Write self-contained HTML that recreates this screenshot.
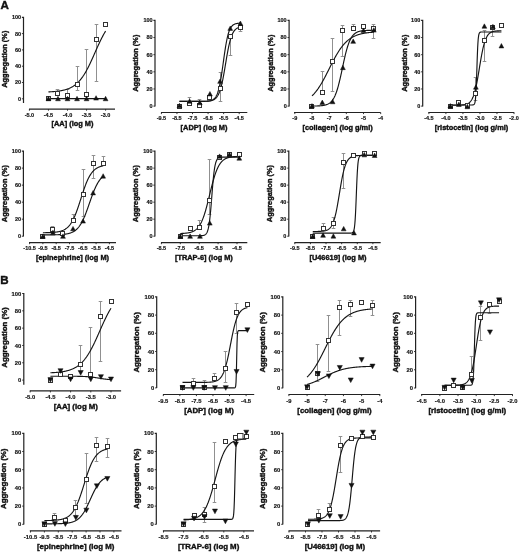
<!DOCTYPE html>
<html><head><meta charset="utf-8"><style>
html,body{margin:0;padding:0;background:#fff;}
body{width:520px;height:552px;overflow:hidden;}
svg{display:block;will-change:transform;}
text{font-family:"Liberation Sans", sans-serif;font-weight:bold;fill:#111;stroke:#111;stroke-width:0.4px;}
.big{font-size:11.6px;fill:#111;}
.yt{text-anchor:end;stroke-width:0.15px;}
.xt{text-anchor:middle;stroke-width:0.15px;}
.xl{text-anchor:middle;}
.yl{text-anchor:middle;}
.ax{stroke:#222;stroke-width:1.2;fill:none;}
.tk{stroke:#222;stroke-width:0.9;}
.cv{stroke:#151515;stroke-width:1.15;fill:none;stroke-linejoin:round;}
.eb{stroke:#909090;stroke-width:1;}
.tr{fill:#111;stroke:#111;stroke-width:0.5;stroke-linejoin:round;}
.sq{fill:#fff;stroke:#333;stroke-width:1;}
</style></head><body>
<svg width="520" height="552" viewBox="0 0 520 552">
<rect width="520" height="552" fill="#fff"/>
<text x="0.5" y="9.2" class="big">A</text>
<text x="0.3" y="283.8" class="big">B</text>
<g>
<path d="M21.9,17.3H23.5V103" class="ax"/>
<line x1="21.9" y1="98.8" x2="23.5" y2="98.8" class="tk"/>
<line x1="21.9" y1="82.5" x2="23.5" y2="82.5" class="tk"/>
<line x1="21.9" y1="66.2" x2="23.5" y2="66.2" class="tk"/>
<line x1="21.9" y1="49.9" x2="23.5" y2="49.9" class="tk"/>
<line x1="21.9" y1="33.6" x2="23.5" y2="33.6" class="tk"/>
<text x="21.1" y="100.75" class="yt" style="font-size:5.5px">0</text>
<text x="21.1" y="84.45" class="yt" style="font-size:5.5px">20</text>
<text x="21.1" y="68.15" class="yt" style="font-size:5.5px">40</text>
<text x="21.1" y="51.85" class="yt" style="font-size:5.5px">60</text>
<text x="21.1" y="35.55" class="yt" style="font-size:5.5px">80</text>
<text x="21.1" y="19.25" class="yt" style="font-size:5.5px">100</text>
<line x1="29" y1="109.1" x2="115" y2="109.1" class="ax"/>
<line x1="29.4" y1="109.1" x2="29.4" y2="110.7" class="tk"/>
<text x="29.4" y="116.8" class="xt" style="font-size:5.5px">-5.0</text>
<line x1="48.45" y1="109.1" x2="48.45" y2="110.7" class="tk"/>
<text x="48.45" y="116.8" class="xt" style="font-size:5.5px">-4.5</text>
<line x1="67.5" y1="109.1" x2="67.5" y2="110.7" class="tk"/>
<text x="67.5" y="116.8" class="xt" style="font-size:5.5px">-4.0</text>
<line x1="86.55" y1="109.1" x2="86.55" y2="110.7" class="tk"/>
<text x="86.55" y="116.8" class="xt" style="font-size:5.5px">-3.5</text>
<line x1="105.6" y1="109.1" x2="105.6" y2="110.7" class="tk"/>
<text x="105.6" y="116.8" class="xt" style="font-size:5.5px">-3.0</text>
<text x="72.5" y="126.2" class="xl" style="font-size:7.4px">[AA] (log M)</text>
<text transform="translate(7,59.2) rotate(-90)" class="yl" style="font-size:7.4px">Aggregation (%)</text>
<line x1="57.5" y1="93.67" x2="57.5" y2="89.5" class="eb"/>
<line x1="55.7" y1="89.5" x2="59.3" y2="89.5" class="eb"/>
<line x1="67.5" y1="95.21" x2="67.5" y2="89.5" class="eb"/>
<line x1="65.7" y1="89.5" x2="69.3" y2="89.5" class="eb"/>
<line x1="77.5" y1="84.62" x2="77.5" y2="66.5" class="eb"/>
<line x1="75.7" y1="66.5" x2="79.3" y2="66.5" class="eb"/>
<line x1="77.5" y1="84.62" x2="77.5" y2="90.5" class="eb"/>
<line x1="75.7" y1="90.5" x2="79.3" y2="90.5" class="eb"/>
<line x1="86.5" y1="94.07" x2="86.5" y2="49.5" class="eb"/>
<line x1="84.7" y1="49.5" x2="88.3" y2="49.5" class="eb"/>
<line x1="96.5" y1="39.06" x2="96.5" y2="24.5" class="eb"/>
<line x1="94.7" y1="24.5" x2="98.3" y2="24.5" class="eb"/>
<line x1="96.5" y1="39.06" x2="96.5" y2="81.5" class="eb"/>
<line x1="94.7" y1="81.5" x2="98.3" y2="81.5" class="eb"/>
<polyline points="48.45,91.9 48.74,91.89 49.02,91.88 49.31,91.86 49.59,91.85 49.88,91.83 50.16,91.82 50.45,91.8 50.74,91.79 51.02,91.77 51.31,91.76 51.59,91.74 51.88,91.72 52.16,91.7 52.45,91.68 52.74,91.66 53.02,91.64 53.31,91.62 53.59,91.6 53.88,91.58 54.17,91.55 54.45,91.53 54.74,91.51 55.02,91.48 55.31,91.45 55.59,91.43 55.88,91.4 56.17,91.37 56.45,91.34 56.74,91.31 57.02,91.28 57.31,91.24 57.59,91.21 57.88,91.17 58.17,91.14 58.45,91.1 58.74,91.06 59.02,91.02 59.31,90.98 59.59,90.94 59.88,90.89 60.17,90.85 60.45,90.8 60.74,90.75 61.02,90.7 61.31,90.65 61.59,90.6 61.88,90.54 62.17,90.49 62.45,90.43 62.74,90.37 63.02,90.3 63.31,90.24 63.59,90.17 63.88,90.11 64.17,90.04 64.45,89.96 64.74,89.89 65.02,89.81 65.31,89.73 65.59,89.65 65.88,89.56 66.17,89.48 66.45,89.39 66.74,89.29 67.02,89.2 67.31,89.1 67.6,89 67.88,88.89 68.17,88.78 68.45,88.67 68.74,88.56 69.02,88.44 69.31,88.32 69.6,88.19 69.88,88.06 70.17,87.93 70.45,87.79 70.74,87.65 71.02,87.51 71.31,87.36 71.6,87.21 71.88,87.05 72.17,86.89 72.45,86.72 72.74,86.55 73.02,86.37 73.31,86.19 73.6,86 73.88,85.81 74.17,85.61 74.45,85.41 74.74,85.2 75.02,84.98 75.31,84.76 75.6,84.54 75.88,84.3 76.17,84.07 76.45,83.82 76.74,83.57 77.03,83.31 77.31,83.05 77.6,82.78 77.88,82.5 78.17,82.22 78.45,81.92 78.74,81.62 79.03,81.32 79.31,81.01 79.6,80.68 79.88,80.36 80.17,80.02 80.45,79.68 80.74,79.32 81.03,78.97 81.31,78.6 81.6,78.22 81.88,77.84 82.17,77.45 82.45,77.05 82.74,76.64 83.03,76.23 83.31,75.8 83.6,75.37 83.88,74.93 84.17,74.48 84.45,74.02 84.74,73.56 85.03,73.09 85.31,72.61 85.6,72.12 85.88,71.62 86.17,71.12 86.45,70.6 86.74,70.08 87.03,69.56 87.31,69.02 87.6,68.48 87.88,67.93 88.17,67.37 88.45,66.81 88.74,66.24 89.03,65.66 89.31,65.08 89.6,64.49 89.88,63.9 90.17,63.3 90.46,62.69 90.74,62.08 91.03,61.47 91.31,60.85 91.6,60.23 91.88,59.6 92.17,58.97 92.46,58.34 92.74,57.7 93.03,57.06 93.31,56.42 93.6,55.77 93.88,55.13 94.17,54.48 94.46,53.83 94.74,53.18 95.03,52.54 95.31,51.89 95.6,51.24 95.88,50.59 96.17,49.95 96.46,49.3 96.74,48.66 97.03,48.02 97.31,47.38 97.6,46.75 97.88,46.11 98.17,45.49 98.46,44.86 98.74,44.24 99.03,43.63 99.31,43.01 99.6,42.41 99.88,41.81 100.17,41.21 100.46,40.62 100.74,40.03 101.03,39.46 101.31,38.88 101.6,38.32 101.89,37.76 102.17,37.21 102.46,36.66 102.74,36.13 103.03,35.6 103.31,35.07 103.6,34.56 103.89,34.05 104.17,33.55 104.46,33.06 104.74,32.58 105.03,32.1 105.31,31.63 105.6,31.18" class="cv"/>
<polyline points="48.45,98.56 48.74,98.56 49.02,98.56 49.31,98.56 49.59,98.56 49.88,98.56 50.16,98.56 50.45,98.56 50.74,98.56 51.02,98.56 51.31,98.56 51.59,98.56 51.88,98.56 52.16,98.56 52.45,98.56 52.74,98.56 53.02,98.56 53.31,98.56 53.59,98.56 53.88,98.56 54.17,98.56 54.45,98.56 54.74,98.56 55.02,98.56 55.31,98.56 55.59,98.56 55.88,98.56 56.17,98.56 56.45,98.56 56.74,98.56 57.02,98.56 57.31,98.56 57.59,98.56 57.88,98.56 58.17,98.56 58.45,98.56 58.74,98.56 59.02,98.56 59.31,98.56 59.59,98.56 59.88,98.56 60.17,98.56 60.45,98.56 60.74,98.56 61.02,98.56 61.31,98.56 61.59,98.56 61.88,98.56 62.17,98.56 62.45,98.56 62.74,98.56 63.02,98.56 63.31,98.56 63.59,98.56 63.88,98.56 64.17,98.56 64.45,98.56 64.74,98.56 65.02,98.56 65.31,98.56 65.59,98.56 65.88,98.56 66.17,98.56 66.45,98.56 66.74,98.56 67.02,98.56 67.31,98.56 67.6,98.56 67.88,98.56 68.17,98.56 68.45,98.56 68.74,98.56 69.02,98.56 69.31,98.56 69.6,98.56 69.88,98.56 70.17,98.56 70.45,98.56 70.74,98.56 71.02,98.56 71.31,98.56 71.6,98.56 71.88,98.56 72.17,98.56 72.45,98.56 72.74,98.56 73.02,98.56 73.31,98.56 73.6,98.56 73.88,98.56 74.17,98.56 74.45,98.56 74.74,98.56 75.02,98.56 75.31,98.56 75.6,98.56 75.88,98.56 76.17,98.56 76.45,98.56 76.74,98.56 77.03,98.56 77.31,98.56 77.6,98.56 77.88,98.56 78.17,98.56 78.45,98.56 78.74,98.56 79.03,98.56 79.31,98.56 79.6,98.56 79.88,98.56 80.17,98.56 80.45,98.56 80.74,98.56 81.03,98.56 81.31,98.56 81.6,98.56 81.88,98.56 82.17,98.56 82.45,98.56 82.74,98.56 83.03,98.56 83.31,98.56 83.6,98.56 83.88,98.56 84.17,98.56 84.45,98.56 84.74,98.56 85.03,98.56 85.31,98.56 85.6,98.56 85.88,98.56 86.17,98.56 86.45,98.56 86.74,98.56 87.03,98.56 87.31,98.56 87.6,98.56 87.88,98.56 88.17,98.56 88.45,98.56 88.74,98.56 89.03,98.56 89.31,98.56 89.6,98.56 89.88,98.56 90.17,98.56 90.46,98.56 90.74,98.56 91.03,98.56 91.31,98.56 91.6,98.56 91.88,98.56 92.17,98.56 92.46,98.56 92.74,98.56 93.03,98.56 93.31,98.56 93.6,98.56 93.88,98.56 94.17,98.56 94.46,98.56 94.74,98.56 95.03,98.56 95.31,98.56 95.6,98.56 95.88,98.56 96.17,98.56 96.46,98.56 96.74,98.56 97.03,98.56 97.31,98.56 97.6,98.56 97.88,98.56 98.17,98.56 98.46,98.56 98.74,98.56 99.03,98.56 99.31,98.56 99.6,98.56 99.88,98.56 100.17,98.56 100.46,98.56 100.74,98.56 101.03,98.56 101.31,98.56 101.6,98.56 101.89,98.56 102.17,98.56 102.46,98.56 102.74,98.56 103.03,98.56 103.31,98.56 103.6,98.56 103.89,98.56 104.17,98.56 104.46,98.56 104.74,98.56 105.03,98.56 105.31,98.56 105.6,98.56" class="cv"/>
<rect x="46.5" y="96.5" width="4" height="4" class="sq"/>
<rect x="55.5" y="91.5" width="4" height="4" class="sq"/>
<rect x="65.5" y="93.5" width="4" height="4" class="sq"/>
<rect x="75.5" y="82.5" width="4" height="4" class="sq"/>
<rect x="84.5" y="92.5" width="4" height="4" class="sq"/>
<rect x="94.5" y="37.5" width="4" height="4" class="sq"/>
<rect x="103.5" y="22.5" width="4" height="4" class="sq"/>
<polygon points="46.05,100.74 50.85,100.74 48.45,96.33" class="tr"/>
<polygon points="55.58,100.74 60.38,100.74 57.98,96.33" class="tr"/>
<polygon points="65.1,100.74 69.9,100.74 67.5,96.33" class="tr"/>
<polygon points="74.62,100.74 79.43,100.74 77.03,96.33" class="tr"/>
<polygon points="84.15,100.74 88.95,100.74 86.55,96.33" class="tr"/>
<polygon points="93.67,100.08 98.47,100.08 96.07,95.67" class="tr"/>
<polygon points="103.2,100.74 108,100.74 105.6,96.33" class="tr"/>
</g>
<g>
<path d="M153.4,20.4H155V106.4" class="ax"/>
<line x1="153.4" y1="106.1" x2="155" y2="106.1" class="tk"/>
<line x1="153.4" y1="88.96" x2="155" y2="88.96" class="tk"/>
<line x1="153.4" y1="71.82" x2="155" y2="71.82" class="tk"/>
<line x1="153.4" y1="54.68" x2="155" y2="54.68" class="tk"/>
<line x1="153.4" y1="37.54" x2="155" y2="37.54" class="tk"/>
<text x="152.6" y="108.05" class="yt" style="font-size:5.5px">0</text>
<text x="152.6" y="90.91" class="yt" style="font-size:5.5px">20</text>
<text x="152.6" y="73.77" class="yt" style="font-size:5.5px">40</text>
<text x="152.6" y="56.63" class="yt" style="font-size:5.5px">60</text>
<text x="152.6" y="39.49" class="yt" style="font-size:5.5px">80</text>
<text x="152.6" y="22.35" class="yt" style="font-size:5.5px">100</text>
<line x1="161" y1="112.5" x2="247.3" y2="112.5" class="ax"/>
<line x1="161.4" y1="112.5" x2="161.4" y2="114.1" class="tk"/>
<text x="161.4" y="120.2" class="xt" style="font-size:5.5px">-9.5</text>
<line x1="176.96" y1="112.5" x2="176.96" y2="114.1" class="tk"/>
<text x="176.96" y="120.2" class="xt" style="font-size:5.5px">-8.5</text>
<line x1="192.52" y1="112.5" x2="192.52" y2="114.1" class="tk"/>
<text x="192.52" y="120.2" class="xt" style="font-size:5.5px">-7.5</text>
<line x1="208.08" y1="112.5" x2="208.08" y2="114.1" class="tk"/>
<text x="208.08" y="120.2" class="xt" style="font-size:5.5px">-6.5</text>
<line x1="223.64" y1="112.5" x2="223.64" y2="114.1" class="tk"/>
<text x="223.64" y="120.2" class="xt" style="font-size:5.5px">-5.5</text>
<line x1="239.2" y1="112.5" x2="239.2" y2="114.1" class="tk"/>
<text x="239.2" y="120.2" class="xt" style="font-size:5.5px">-4.5</text>
<text x="204" y="129.6" class="xl" style="font-size:7.4px">[ADP] (log M)</text>
<text transform="translate(138.3,63.2) rotate(-90)" class="yl" style="font-size:7.4px">Aggregation (%)</text>
<line x1="189.5" y1="103.96" x2="189.5" y2="97.5" class="eb"/>
<line x1="187.7" y1="97.5" x2="191.3" y2="97.5" class="eb"/>
<line x1="199.5" y1="105.93" x2="199.5" y2="99.5" class="eb"/>
<line x1="197.7" y1="99.5" x2="201.3" y2="99.5" class="eb"/>
<line x1="220.5" y1="88.53" x2="220.5" y2="72.5" class="eb"/>
<line x1="218.7" y1="72.5" x2="222.3" y2="72.5" class="eb"/>
<line x1="220.5" y1="88.53" x2="220.5" y2="101.5" class="eb"/>
<line x1="218.7" y1="101.5" x2="222.3" y2="101.5" class="eb"/>
<line x1="230.5" y1="36.25" x2="230.5" y2="55.5" class="eb"/>
<line x1="228.7" y1="55.5" x2="232.3" y2="55.5" class="eb"/>
<line x1="240.5" y1="27.26" x2="240.5" y2="31.5" class="eb"/>
<line x1="238.7" y1="31.5" x2="242.3" y2="31.5" class="eb"/>
<polyline points="179.45,101.39 179.75,101.39 180.06,101.39 180.36,101.39 180.67,101.39 180.97,101.39 181.28,101.39 181.58,101.39 181.89,101.39 182.19,101.39 182.5,101.39 182.8,101.39 183.11,101.39 183.41,101.39 183.72,101.39 184.02,101.39 184.33,101.39 184.63,101.39 184.94,101.39 185.24,101.39 185.55,101.39 185.85,101.39 186.16,101.39 186.46,101.39 186.77,101.39 187.07,101.39 187.37,101.39 187.68,101.39 187.98,101.39 188.29,101.39 188.59,101.39 188.9,101.39 189.2,101.39 189.51,101.39 189.81,101.39 190.12,101.39 190.42,101.39 190.73,101.39 191.03,101.39 191.34,101.39 191.64,101.39 191.95,101.38 192.25,101.38 192.56,101.38 192.86,101.38 193.17,101.38 193.47,101.38 193.78,101.38 194.08,101.38 194.39,101.38 194.69,101.38 195,101.38 195.3,101.38 195.61,101.38 195.91,101.38 196.21,101.38 196.52,101.38 196.82,101.38 197.13,101.38 197.43,101.38 197.74,101.38 198.04,101.38 198.35,101.37 198.65,101.37 198.96,101.37 199.26,101.37 199.57,101.37 199.87,101.37 200.18,101.36 200.48,101.36 200.79,101.36 201.09,101.36 201.4,101.35 201.7,101.35 202.01,101.35 202.31,101.34 202.62,101.34 202.92,101.33 203.23,101.33 203.53,101.32 203.84,101.31 204.14,101.31 204.44,101.3 204.75,101.29 205.05,101.28 205.36,101.27 205.66,101.26 205.97,101.24 206.27,101.23 206.58,101.21 206.88,101.2 207.19,101.18 207.49,101.16 207.8,101.13 208.1,101.11 208.41,101.08 208.71,101.05 209.02,101.01 209.32,100.97 209.63,100.93 209.93,100.88 210.24,100.83 210.54,100.78 210.85,100.71 211.15,100.65 211.46,100.57 211.76,100.49 212.07,100.4 212.37,100.3 212.68,100.19 212.98,100.07 213.28,99.94 213.59,99.79 213.89,99.63 214.2,99.46 214.5,99.27 214.81,99.06 215.11,98.83 215.42,98.57 215.72,98.3 216.03,98 216.33,97.67 216.64,97.31 216.94,96.91 217.25,96.48 217.55,96.02 217.86,95.51 218.16,94.96 218.47,94.37 218.77,93.72 219.08,93.03 219.38,92.27 219.69,91.46 219.99,90.59 220.3,89.66 220.6,88.67 220.91,87.6 221.21,86.47 221.51,85.28 221.82,84.01 222.12,82.68 222.43,81.27 222.73,79.81 223.04,78.28 223.34,76.69 223.65,75.05 223.95,73.37 224.26,71.64 224.56,69.87 224.87,68.08 225.17,66.27 225.48,64.44 225.78,62.62 226.09,60.8 226.39,58.99 226.7,57.21 227,55.46 227.31,53.74 227.61,52.07 227.92,50.46 228.22,48.89 228.53,47.39 228.83,45.95 229.14,44.57 229.44,43.27 229.74,42.03 230.05,40.85 230.35,39.75 230.66,38.72 230.96,37.75 231.27,36.84 231.57,35.99 231.88,35.21 232.18,34.48 232.49,33.8 232.79,33.18 233.1,32.6 233.4,32.07 233.71,31.58 234.01,31.13 234.32,30.71 234.62,30.33 234.93,29.99 235.23,29.67 235.54,29.38 235.84,29.11 236.15,28.87 236.45,28.64 236.76,28.44 237.06,28.26 237.37,28.09 237.67,27.93 237.98,27.79 238.28,27.67 238.58,27.55 238.89,27.45 239.19,27.35 239.5,27.26 239.8,27.18 240.11,27.11 240.41,27.05" class="cv"/>
<polyline points="179.45,101.39 179.75,101.39 180.06,101.39 180.36,101.39 180.67,101.39 180.97,101.39 181.28,101.39 181.58,101.39 181.89,101.39 182.19,101.39 182.5,101.39 182.8,101.39 183.11,101.39 183.41,101.39 183.72,101.39 184.02,101.39 184.33,101.39 184.63,101.39 184.94,101.39 185.24,101.39 185.55,101.39 185.85,101.39 186.16,101.39 186.46,101.39 186.77,101.39 187.07,101.39 187.37,101.39 187.68,101.39 187.98,101.39 188.29,101.39 188.59,101.39 188.9,101.39 189.2,101.39 189.51,101.39 189.81,101.39 190.12,101.39 190.42,101.39 190.73,101.39 191.03,101.39 191.34,101.39 191.64,101.39 191.95,101.39 192.25,101.39 192.56,101.39 192.86,101.39 193.17,101.39 193.47,101.39 193.78,101.39 194.08,101.38 194.39,101.38 194.69,101.38 195,101.38 195.3,101.38 195.61,101.38 195.91,101.38 196.21,101.38 196.52,101.38 196.82,101.38 197.13,101.38 197.43,101.38 197.74,101.38 198.04,101.38 198.35,101.38 198.65,101.38 198.96,101.38 199.26,101.38 199.57,101.37 199.87,101.37 200.18,101.37 200.48,101.37 200.79,101.37 201.09,101.37 201.4,101.36 201.7,101.36 202.01,101.36 202.31,101.35 202.62,101.35 202.92,101.35 203.23,101.34 203.53,101.33 203.84,101.33 204.14,101.32 204.44,101.31 204.75,101.31 205.05,101.3 205.36,101.28 205.66,101.27 205.97,101.26 206.27,101.24 206.58,101.23 206.88,101.21 207.19,101.19 207.49,101.16 207.8,101.14 208.1,101.11 208.41,101.07 208.71,101.04 209.02,100.99 209.32,100.95 209.63,100.9 209.93,100.84 210.24,100.77 210.54,100.7 210.85,100.62 211.15,100.53 211.46,100.43 211.76,100.32 212.07,100.19 212.37,100.05 212.68,99.89 212.98,99.72 213.28,99.52 213.59,99.31 213.89,99.07 214.2,98.8 214.5,98.5 214.81,98.17 215.11,97.8 215.42,97.4 215.72,96.95 216.03,96.45 216.33,95.9 216.64,95.3 216.94,94.64 217.25,93.91 217.55,93.11 217.86,92.24 218.16,91.29 218.47,90.25 218.77,89.13 219.08,87.92 219.38,86.61 219.69,85.21 219.99,83.72 220.3,82.13 220.6,80.44 220.91,78.67 221.21,76.8 221.51,74.86 221.82,72.85 222.12,70.77 222.43,68.64 222.73,66.47 223.04,64.28 223.34,62.07 223.65,59.86 223.95,57.67 224.26,55.5 224.56,53.38 224.87,51.31 225.17,49.3 225.48,47.37 225.78,45.51 226.09,43.75 226.39,42.07 226.7,40.49 227,39 227.31,37.61 227.61,36.32 227.92,35.11 228.22,34 228.53,32.97 228.83,32.03 229.14,31.17 229.44,30.37 229.74,29.65 230.05,28.99 230.35,28.4 230.66,27.85 230.96,27.36 231.27,26.92 231.57,26.52 231.88,26.15 232.18,25.83 232.49,25.53 232.79,25.27 233.1,25.03 233.4,24.81 233.71,24.62 234.01,24.45 234.32,24.29 234.62,24.15 234.93,24.03 235.23,23.92 235.54,23.82 235.84,23.73 236.15,23.65 236.45,23.58 236.76,23.51 237.06,23.46 237.37,23.4 237.67,23.36 237.98,23.32 238.28,23.28 238.58,23.25 238.89,23.22 239.19,23.19 239.5,23.17 239.8,23.15 240.11,23.13 240.41,23.11" class="cv"/>
<rect x="177.5" y="104.5" width="4" height="4" class="sq"/>
<rect x="187.5" y="101.5" width="4" height="4" class="sq"/>
<rect x="197.5" y="103.5" width="4" height="4" class="sq"/>
<rect x="207.5" y="95.5" width="4" height="4" class="sq"/>
<rect x="218.5" y="86.5" width="4" height="4" class="sq"/>
<rect x="228.5" y="34.5" width="4" height="4" class="sq"/>
<rect x="238.5" y="25.5" width="4" height="4" class="sq"/>
<polygon points="177.05,107.77 181.85,107.77 179.45,103.36" class="tr"/>
<polygon points="187.21,103.32 192.01,103.32 189.61,98.91" class="tr"/>
<polygon points="197.37,104.77 202.17,104.77 199.77,100.36" class="tr"/>
<polygon points="207.53,95.94 212.33,95.94 209.93,91.53" class="tr"/>
<polygon points="217.69,83.35 222.49,83.35 220.09,78.94" class="tr"/>
<polygon points="227.85,30.38 232.65,30.38 230.25,25.97" class="tr"/>
<polygon points="238.01,25.41 242.81,25.41 240.41,21" class="tr"/>
</g>
<g>
<path d="M287.5,20.4H289.1V106.4" class="ax"/>
<line x1="287.5" y1="106.1" x2="289.1" y2="106.1" class="tk"/>
<line x1="287.5" y1="88.96" x2="289.1" y2="88.96" class="tk"/>
<line x1="287.5" y1="71.82" x2="289.1" y2="71.82" class="tk"/>
<line x1="287.5" y1="54.68" x2="289.1" y2="54.68" class="tk"/>
<line x1="287.5" y1="37.54" x2="289.1" y2="37.54" class="tk"/>
<text x="286.7" y="108.05" class="yt" style="font-size:5.5px">0</text>
<text x="286.7" y="90.91" class="yt" style="font-size:5.5px">20</text>
<text x="286.7" y="73.77" class="yt" style="font-size:5.5px">40</text>
<text x="286.7" y="56.63" class="yt" style="font-size:5.5px">60</text>
<text x="286.7" y="39.49" class="yt" style="font-size:5.5px">80</text>
<text x="286.7" y="22.35" class="yt" style="font-size:5.5px">100</text>
<line x1="294" y1="112.5" x2="380.7" y2="112.5" class="ax"/>
<line x1="294.8" y1="112.5" x2="294.8" y2="114.1" class="tk"/>
<text x="294.8" y="120.2" class="xt" style="font-size:5.5px">-9</text>
<line x1="311.98" y1="112.5" x2="311.98" y2="114.1" class="tk"/>
<text x="311.98" y="120.2" class="xt" style="font-size:5.5px">-8</text>
<line x1="329.16" y1="112.5" x2="329.16" y2="114.1" class="tk"/>
<text x="329.16" y="120.2" class="xt" style="font-size:5.5px">-7</text>
<line x1="346.34" y1="112.5" x2="346.34" y2="114.1" class="tk"/>
<text x="346.34" y="120.2" class="xt" style="font-size:5.5px">-6</text>
<line x1="363.52" y1="112.5" x2="363.52" y2="114.1" class="tk"/>
<text x="363.52" y="120.2" class="xt" style="font-size:5.5px">-5</text>
<line x1="380.7" y1="112.5" x2="380.7" y2="114.1" class="tk"/>
<text x="380.7" y="120.2" class="xt" style="font-size:5.5px">-4</text>
<text x="337.6" y="129.6" class="xl" style="font-size:7.4px">[collagen] (log g/ml)</text>
<text transform="translate(272.6,63.2) rotate(-90)" class="yl" style="font-size:7.4px">Aggregation (%)</text>
<line x1="322.5" y1="92.73" x2="322.5" y2="71.5" class="eb"/>
<line x1="320.7" y1="71.5" x2="324.3" y2="71.5" class="eb"/>
<line x1="332.5" y1="61.36" x2="332.5" y2="38.5" class="eb"/>
<line x1="330.7" y1="38.5" x2="334.3" y2="38.5" class="eb"/>
<line x1="332.5" y1="61.36" x2="332.5" y2="91.5" class="eb"/>
<line x1="330.7" y1="91.5" x2="334.3" y2="91.5" class="eb"/>
<line x1="342.5" y1="30.68" x2="342.5" y2="25.5" class="eb"/>
<line x1="340.7" y1="25.5" x2="344.3" y2="25.5" class="eb"/>
<line x1="342.5" y1="30.68" x2="342.5" y2="56.5" class="eb"/>
<line x1="340.7" y1="56.5" x2="344.3" y2="56.5" class="eb"/>
<line x1="353.5" y1="28.28" x2="353.5" y2="24.5" class="eb"/>
<line x1="351.7" y1="24.5" x2="355.3" y2="24.5" class="eb"/>
<line x1="373.5" y1="28.28" x2="373.5" y2="24.5" class="eb"/>
<line x1="371.7" y1="24.5" x2="375.3" y2="24.5" class="eb"/>
<line x1="373.5" y1="28.28" x2="373.5" y2="38.5" class="eb"/>
<line x1="371.7" y1="38.5" x2="375.3" y2="38.5" class="eb"/>
<polyline points="311.98,95.9 312.29,95.6 312.6,95.3 312.91,94.99 313.22,94.67 313.53,94.35 313.84,94.02 314.14,93.68 314.45,93.33 314.76,92.98 315.07,92.61 315.38,92.24 315.69,91.87 316,91.48 316.31,91.09 316.62,90.69 316.93,90.28 317.24,89.86 317.55,89.43 317.86,89 318.16,88.56 318.47,88.11 318.78,87.66 319.09,87.19 319.4,86.72 319.71,86.24 320.02,85.75 320.33,85.26 320.64,84.76 320.95,84.25 321.26,83.73 321.57,83.21 321.88,82.68 322.18,82.15 322.49,81.6 322.8,81.05 323.11,80.5 323.42,79.94 323.73,79.37 324.04,78.8 324.35,78.23 324.66,77.65 324.97,77.06 325.28,76.47 325.59,75.88 325.9,75.28 326.21,74.68 326.51,74.07 326.82,73.47 327.13,72.86 327.44,72.24 327.75,71.63 328.06,71.02 328.37,70.4 328.68,69.78 328.99,69.16 329.3,68.55 329.61,67.93 329.92,67.31 330.23,66.69 330.53,66.08 330.84,65.46 331.15,64.85 331.46,64.24 331.77,63.64 332.08,63.03 332.39,62.43 332.7,61.83 333.01,61.24 333.32,60.65 333.63,60.06 333.94,59.48 334.25,58.9 334.55,58.33 334.86,57.76 335.17,57.2 335.48,56.65 335.79,56.1 336.1,55.56 336.41,55.02 336.72,54.49 337.03,53.97 337.34,53.45 337.65,52.94 337.96,52.44 338.27,51.94 338.57,51.45 338.88,50.97 339.19,50.5 339.5,50.04 339.81,49.58 340.12,49.13 340.43,48.69 340.74,48.25 341.05,47.83 341.36,47.41 341.67,47 341.98,46.6 342.29,46.2 342.59,45.82 342.9,45.44 343.21,45.07 343.52,44.7 343.83,44.35 344.14,44 344.45,43.66 344.76,43.33 345.07,43 345.38,42.68 345.69,42.37 346,42.07 346.31,41.77 346.61,41.48 346.92,41.2 347.23,40.93 347.54,40.66 347.85,40.4 348.16,40.14 348.47,39.89 348.78,39.65 349.09,39.41 349.4,39.18 349.71,38.96 350.02,38.74 350.33,38.53 350.63,38.32 350.94,38.12 351.25,37.92 351.56,37.73 351.87,37.54 352.18,37.36 352.49,37.19 352.8,37.02 353.11,36.85 353.42,36.69 353.73,36.53 354.04,36.38 354.35,36.23 354.66,36.09 354.96,35.95 355.27,35.82 355.58,35.68 355.89,35.56 356.2,35.43 356.51,35.31 356.82,35.19 357.13,35.08 357.44,34.97 357.75,34.86 358.06,34.76 358.37,34.66 358.68,34.56 358.98,34.47 359.29,34.38 359.6,34.29 359.91,34.2 360.22,34.12 360.53,34.04 360.84,33.96 361.15,33.88 361.46,33.81 361.77,33.73 362.08,33.66 362.39,33.6 362.7,33.53 363,33.47 363.31,33.41 363.62,33.35 363.93,33.29 364.24,33.24 364.55,33.18 364.86,33.13 365.17,33.08 365.48,33.03 365.79,32.98 366.1,32.94 366.41,32.89 366.72,32.85 367.02,32.81 367.33,32.76 367.64,32.73 367.95,32.69 368.26,32.65 368.57,32.61 368.88,32.58 369.19,32.55 369.5,32.51 369.81,32.48 370.12,32.45 370.43,32.42 370.74,32.4 371.04,32.37 371.35,32.34 371.66,32.32 371.97,32.29 372.28,32.27 372.59,32.24 372.9,32.22 373.21,32.2 373.52,32.18 373.83,32.16" class="cv"/>
<polyline points="311.98,106.06 312.29,106.06 312.6,106.05 312.91,106.05 313.22,106.05 313.53,106.04 313.84,106.04 314.14,106.03 314.45,106.03 314.76,106.02 315.07,106.01 315.38,106.01 315.69,106 316,105.99 316.31,105.98 316.62,105.98 316.93,105.97 317.24,105.95 317.55,105.94 317.86,105.93 318.16,105.92 318.47,105.9 318.78,105.89 319.09,105.87 319.4,105.85 319.71,105.83 320.02,105.81 320.33,105.79 320.64,105.76 320.95,105.73 321.26,105.71 321.57,105.67 321.88,105.64 322.18,105.6 322.49,105.56 322.8,105.52 323.11,105.48 323.42,105.43 323.73,105.37 324.04,105.32 324.35,105.25 324.66,105.19 324.97,105.12 325.28,105.04 325.59,104.95 325.9,104.86 326.21,104.77 326.51,104.66 326.82,104.55 327.13,104.43 327.44,104.3 327.75,104.16 328.06,104.01 328.37,103.85 328.68,103.67 328.99,103.48 329.3,103.28 329.61,103.07 329.92,102.83 330.23,102.58 330.53,102.32 330.84,102.03 331.15,101.73 331.46,101.4 331.77,101.05 332.08,100.67 332.39,100.27 332.7,99.84 333.01,99.39 333.32,98.9 333.63,98.39 333.94,97.84 334.25,97.25 334.55,96.63 334.86,95.98 335.17,95.29 335.48,94.55 335.79,93.78 336.1,92.97 336.41,92.11 336.72,91.21 337.03,90.27 337.34,89.28 337.65,88.26 337.96,87.19 338.27,86.07 338.57,84.92 338.88,83.73 339.19,82.5 339.5,81.23 339.81,79.93 340.12,78.59 340.43,77.23 340.74,75.85 341.05,74.44 341.36,73.01 341.67,71.57 341.98,70.12 342.29,68.66 342.59,67.21 342.9,65.75 343.21,64.3 343.52,62.87 343.83,61.45 344.14,60.05 344.45,58.67 344.76,57.31 345.07,55.99 345.38,54.7 345.69,53.44 346,52.23 346.31,51.05 346.61,49.91 346.92,48.81 347.23,47.75 347.54,46.74 347.85,45.77 348.16,44.84 348.47,43.96 348.78,43.11 349.09,42.31 349.4,41.55 349.71,40.83 350.02,40.15 350.33,39.51 350.63,38.9 350.94,38.33 351.25,37.79 351.56,37.29 351.87,36.81 352.18,36.37 352.49,35.95 352.8,35.56 353.11,35.19 353.42,34.85 353.73,34.53 354.04,34.23 354.35,33.95 354.66,33.69 354.96,33.44 355.27,33.22 355.58,33 355.89,32.81 356.2,32.63 356.51,32.46 356.82,32.3 357.13,32.15 357.44,32.01 357.75,31.89 358.06,31.77 358.37,31.66 358.68,31.56 358.98,31.46 359.29,31.37 359.6,31.29 359.91,31.22 360.22,31.15 360.53,31.08 360.84,31.02 361.15,30.96 361.46,30.91 361.77,30.86 362.08,30.82 362.39,30.78 362.7,30.74 363,30.7 363.31,30.67 363.62,30.64 363.93,30.61 364.24,30.59 364.55,30.56 364.86,30.54 365.17,30.52 365.48,30.5 365.79,30.48 366.1,30.46 366.41,30.45 366.72,30.43 367.02,30.42 367.33,30.41 367.64,30.4 367.95,30.39 368.26,30.38 368.57,30.37 368.88,30.36 369.19,30.35 369.5,30.35 369.81,30.34 370.12,30.33 370.43,30.33 370.74,30.32 371.04,30.32 371.35,30.31 371.66,30.31 371.97,30.3 372.28,30.3 372.59,30.3 372.9,30.29 373.21,30.29 373.52,30.29 373.83,30.29" class="cv"/>
<rect x="309.5" y="104.5" width="4" height="4" class="sq"/>
<rect x="320.5" y="90.5" width="4" height="4" class="sq"/>
<rect x="330.5" y="59.5" width="4" height="4" class="sq"/>
<rect x="340.5" y="28.5" width="4" height="4" class="sq"/>
<rect x="351.5" y="26.5" width="4" height="4" class="sq"/>
<rect x="361.5" y="24.5" width="4" height="4" class="sq"/>
<rect x="371.5" y="26.5" width="4" height="4" class="sq"/>
<polygon points="309.58,108.03 314.38,108.03 311.98,103.62" class="tr"/>
<polygon points="319.89,104.51 324.69,104.51 322.29,100.1" class="tr"/>
<polygon points="330.2,103.74 335,103.74 332.6,99.33" class="tr"/>
<polygon points="340.5,69.63 345.3,69.63 342.9,65.22" class="tr"/>
<polygon points="350.81,43.33 355.61,43.33 353.21,38.92" class="tr"/>
<polygon points="361.12,32.44 365.92,32.44 363.52,28.03" class="tr"/>
<polygon points="371.43,32.1 376.23,32.1 373.83,27.69" class="tr"/>
</g>
<g>
<path d="M421.1,20.4H422.7V106.4" class="ax"/>
<line x1="421.1" y1="106.1" x2="422.7" y2="106.1" class="tk"/>
<line x1="421.1" y1="88.96" x2="422.7" y2="88.96" class="tk"/>
<line x1="421.1" y1="71.82" x2="422.7" y2="71.82" class="tk"/>
<line x1="421.1" y1="54.68" x2="422.7" y2="54.68" class="tk"/>
<line x1="421.1" y1="37.54" x2="422.7" y2="37.54" class="tk"/>
<text x="420.3" y="108.05" class="yt" style="font-size:5.5px">0</text>
<text x="420.3" y="90.91" class="yt" style="font-size:5.5px">20</text>
<text x="420.3" y="73.77" class="yt" style="font-size:5.5px">40</text>
<text x="420.3" y="56.63" class="yt" style="font-size:5.5px">60</text>
<text x="420.3" y="39.49" class="yt" style="font-size:5.5px">80</text>
<text x="420.3" y="22.35" class="yt" style="font-size:5.5px">100</text>
<line x1="428.3" y1="112.5" x2="514.2" y2="112.5" class="ax"/>
<line x1="428.9" y1="112.5" x2="428.9" y2="114.1" class="tk"/>
<text x="428.9" y="120.2" class="xt" style="font-size:5.5px">-4.5</text>
<line x1="445.92" y1="112.5" x2="445.92" y2="114.1" class="tk"/>
<text x="445.92" y="120.2" class="xt" style="font-size:5.5px">-4.0</text>
<line x1="462.94" y1="112.5" x2="462.94" y2="114.1" class="tk"/>
<text x="462.94" y="120.2" class="xt" style="font-size:5.5px">-3.5</text>
<line x1="479.96" y1="112.5" x2="479.96" y2="114.1" class="tk"/>
<text x="479.96" y="120.2" class="xt" style="font-size:5.5px">-3.0</text>
<line x1="496.98" y1="112.5" x2="496.98" y2="114.1" class="tk"/>
<text x="496.98" y="120.2" class="xt" style="font-size:5.5px">-2.5</text>
<line x1="514" y1="112.5" x2="514" y2="114.1" class="tk"/>
<text x="514" y="120.2" class="xt" style="font-size:5.5px">-2.0</text>
<text x="471.5" y="129.6" class="xl" style="font-size:7.4px">[ristocetin] (log g/ml)</text>
<text transform="translate(406.5,63.2) rotate(-90)" class="yl" style="font-size:7.4px">Aggregation (%)</text>
<line x1="475.5" y1="93.84" x2="475.5" y2="77.5" class="eb"/>
<line x1="473.7" y1="77.5" x2="477.3" y2="77.5" class="eb"/>
<line x1="475.5" y1="93.84" x2="475.5" y2="100.5" class="eb"/>
<line x1="473.7" y1="100.5" x2="477.3" y2="100.5" class="eb"/>
<line x1="484.5" y1="40.45" x2="484.5" y2="30.5" class="eb"/>
<line x1="482.7" y1="30.5" x2="486.3" y2="30.5" class="eb"/>
<line x1="484.5" y1="40.45" x2="484.5" y2="61.5" class="eb"/>
<line x1="482.7" y1="61.5" x2="486.3" y2="61.5" class="eb"/>
<line x1="492.5" y1="27.26" x2="492.5" y2="36.5" class="eb"/>
<line x1="490.7" y1="36.5" x2="494.3" y2="36.5" class="eb"/>
<polyline points="450.35,105.24 450.6,105.24 450.86,105.24 451.11,105.24 451.37,105.24 451.62,105.23 451.88,105.23 452.13,105.23 452.39,105.23 452.64,105.23 452.9,105.23 453.15,105.23 453.41,105.23 453.66,105.23 453.92,105.23 454.17,105.22 454.43,105.22 454.69,105.22 454.94,105.22 455.2,105.22 455.45,105.21 455.71,105.21 455.96,105.21 456.22,105.21 456.47,105.2 456.73,105.2 456.98,105.19 457.24,105.19 457.49,105.19 457.75,105.18 458,105.18 458.26,105.17 458.51,105.16 458.77,105.16 459.03,105.15 459.28,105.14 459.54,105.13 459.79,105.12 460.05,105.11 460.3,105.1 460.56,105.09 460.81,105.07 461.07,105.06 461.32,105.04 461.58,105.03 461.83,105.01 462.09,104.99 462.34,104.97 462.6,104.94 462.85,104.91 463.11,104.89 463.37,104.86 463.62,104.82 463.88,104.79 464.13,104.75 464.39,104.7 464.64,104.66 464.9,104.61 465.15,104.55 465.41,104.49 465.66,104.43 465.92,104.36 466.17,104.28 466.43,104.2 466.68,104.11 466.94,104.01 467.19,103.9 467.45,103.79 467.71,103.66 467.96,103.53 468.22,103.38 468.47,103.23 468.73,103.06 468.98,102.87 469.24,102.67 469.49,102.46 469.75,102.22 470,101.97 470.26,101.7 470.51,101.41 470.77,101.09 471.02,100.75 471.28,100.38 471.54,99.99 471.79,99.57 472.05,99.11 472.3,98.63 472.56,98.11 472.81,97.55 473.07,96.95 473.32,96.32 473.58,95.64 473.83,94.92 474.09,94.15 474.34,93.34 474.6,92.48 474.85,91.57 475.11,90.61 475.36,89.6 475.62,88.54 475.88,87.44 476.13,86.28 476.39,85.07 476.64,83.82 476.9,82.52 477.15,81.18 477.41,79.8 477.66,78.38 477.92,76.92 478.17,75.44 478.43,73.94 478.68,72.41 478.94,70.87 479.19,69.31 479.45,67.76 479.7,66.2 479.96,64.65 480.22,63.11 480.47,61.59 480.73,60.09 480.98,58.61 481.24,57.17 481.49,55.76 481.75,54.39 482,53.06 482.26,51.77 482.51,50.53 482.77,49.34 483.02,48.19 483.28,47.1 483.53,46.05 483.79,45.06 484.04,44.11 484.3,43.22 484.56,42.37 484.81,41.57 485.07,40.81 485.32,40.1 485.58,39.44 485.83,38.81 486.09,38.23 486.34,37.68 486.6,37.17 486.85,36.69 487.11,36.24 487.36,35.83 487.62,35.44 487.87,35.08 488.13,34.75 488.38,34.44 488.64,34.15 488.9,33.89 489.15,33.64 489.41,33.41 489.66,33.2 489.92,33 490.17,32.82 490.43,32.66 490.68,32.5 490.94,32.36 491.19,32.23 491.45,32.11 491.7,31.99 491.96,31.89 492.21,31.8 492.47,31.71 492.72,31.63 492.98,31.55 493.24,31.48 493.49,31.42 493.75,31.36 494,31.31 494.26,31.26 494.51,31.21 494.77,31.17 495.02,31.13 495.28,31.1 495.53,31.06 495.79,31.03 496.04,31 496.3,30.98 496.55,30.96 496.81,30.93 497.07,30.91 497.32,30.9 497.58,30.88 497.83,30.86 498.09,30.85 498.34,30.84 498.6,30.82 498.85,30.81 499.11,30.8 499.36,30.79 499.62,30.78 499.87,30.78 500.13,30.77 500.38,30.76 500.64,30.76 500.89,30.75 501.15,30.74 501.41,30.74" class="cv"/>
<polyline points="450.35,104.99 450.6,104.99 450.86,104.99 451.11,104.99 451.37,104.99 451.62,104.99 451.88,104.99 452.13,104.99 452.39,104.99 452.64,104.99 452.9,104.99 453.15,104.99 453.41,104.99 453.66,104.99 453.92,104.99 454.17,104.99 454.43,104.99 454.69,104.99 454.94,104.99 455.2,104.99 455.45,104.99 455.71,104.99 455.96,104.99 456.22,104.99 456.47,104.99 456.73,104.99 456.98,104.99 457.24,104.99 457.49,104.99 457.75,104.99 458,104.99 458.26,104.99 458.51,104.99 458.77,104.99 459.03,104.99 459.28,104.99 459.54,104.99 459.79,104.99 460.05,104.99 460.3,104.99 460.56,104.99 460.81,104.99 461.07,104.99 461.32,104.99 461.58,104.99 461.83,104.99 462.09,104.99 462.34,104.99 462.6,104.99 462.85,104.99 463.11,104.99 463.37,104.99 463.62,104.99 463.88,104.99 464.13,104.99 464.39,104.99 464.64,104.99 464.9,104.99 465.15,104.99 465.41,104.99 465.66,104.99 465.92,104.99 466.17,104.99 466.43,104.99 466.68,104.99 466.94,104.99 467.19,104.99 467.45,104.99 467.71,104.99 467.96,104.99 468.22,104.99 468.47,104.99 468.73,104.99 468.98,104.99 469.24,104.99 469.49,104.99 469.75,104.99 470,104.99 470.26,104.98 470.51,104.98 470.77,104.98 471.02,104.98 471.28,104.98 471.54,104.98 471.79,104.97 472.05,104.97 472.3,104.96 472.56,104.94 472.81,104.91 473.07,104.87 473.32,104.81 473.58,104.72 473.83,104.58 474.09,104.36 474.34,104.03 474.6,103.52 474.85,102.75 475.11,101.6 475.36,99.89 475.62,97.43 475.88,93.96 476.13,89.29 476.39,83.33 476.64,76.24 476.9,68.48 477.15,60.72 477.41,53.63 477.66,47.67 477.92,42.99 478.17,39.53 478.43,37.06 478.68,35.36 478.94,34.21 479.19,33.44 479.45,32.93 479.7,32.6 479.96,32.38 480.22,32.24 480.47,32.14 480.73,32.08 480.98,32.04 481.24,32.02 481.49,32 481.75,31.99 482,31.98 482.26,31.98 482.51,31.97 482.77,31.97 483.02,31.97 483.28,31.97 483.53,31.97 483.79,31.97 484.04,31.97 484.3,31.97 484.56,31.97 484.81,31.97 485.07,31.97 485.32,31.97 485.58,31.97 485.83,31.97 486.09,31.97 486.34,31.97 486.6,31.97 486.85,31.97 487.11,31.97 487.36,31.97 487.62,31.97 487.87,31.97 488.13,31.97 488.38,31.97 488.64,31.97 488.9,31.97 489.15,31.97 489.41,31.97 489.66,31.97 489.92,31.97 490.17,31.97 490.43,31.97 490.68,31.97 490.94,31.97 491.19,31.97 491.45,31.97 491.7,31.97 491.96,31.97 492.21,31.97 492.47,31.97 492.72,31.97 492.98,31.97 493.24,31.97 493.49,31.97 493.75,31.97 494,31.97 494.26,31.97 494.51,31.97 494.77,31.97 495.02,31.97 495.28,31.97 495.53,31.97 495.79,31.97 496.04,31.97 496.3,31.97 496.55,31.97 496.81,31.97 497.07,31.97 497.32,31.97 497.58,31.97 497.83,31.97 498.09,31.97 498.34,31.97 498.6,31.97 498.85,31.97 499.11,31.97 499.36,31.97 499.62,31.97 499.87,31.97 500.13,31.97 500.38,31.97 500.64,31.97 500.89,31.97 501.15,31.97 501.41,31.97" class="cv"/>
<rect x="448.5" y="104.5" width="4" height="4" class="sq"/>
<rect x="456.5" y="100.5" width="4" height="4" class="sq"/>
<rect x="465.5" y="103.5" width="4" height="4" class="sq"/>
<rect x="473.5" y="91.5" width="4" height="4" class="sq"/>
<rect x="482.5" y="38.5" width="4" height="4" class="sq"/>
<rect x="490.5" y="25.5" width="4" height="4" class="sq"/>
<rect x="499.5" y="23.5" width="4" height="4" class="sq"/>
<polygon points="447.95,108.03 452.75,108.03 450.35,103.62" class="tr"/>
<polygon points="456.46,106.49 461.26,106.49 458.86,102.08" class="tr"/>
<polygon points="464.97,108.71 469.77,108.71 467.37,104.3" class="tr"/>
<polygon points="473.48,89.17 478.28,89.17 475.88,84.76" class="tr"/>
<polygon points="481.99,28.24 486.79,28.24 484.39,23.83" class="tr"/>
<polygon points="490.5,28.76 495.3,28.76 492.9,24.35" class="tr"/>
<polygon points="499.01,47.95 503.81,47.95 501.41,43.54" class="tr"/>
</g>
<g>
<path d="M21.8,151.1H23.4V236.4" class="ax"/>
<line x1="21.8" y1="236.2" x2="23.4" y2="236.2" class="tk"/>
<line x1="21.8" y1="219.18" x2="23.4" y2="219.18" class="tk"/>
<line x1="21.8" y1="202.16" x2="23.4" y2="202.16" class="tk"/>
<line x1="21.8" y1="185.14" x2="23.4" y2="185.14" class="tk"/>
<line x1="21.8" y1="168.12" x2="23.4" y2="168.12" class="tk"/>
<text x="21" y="238.15" class="yt" style="font-size:5.5px">0</text>
<text x="21" y="221.13" class="yt" style="font-size:5.5px">20</text>
<text x="21" y="204.11" class="yt" style="font-size:5.5px">40</text>
<text x="21" y="187.09" class="yt" style="font-size:5.5px">60</text>
<text x="21" y="170.07" class="yt" style="font-size:5.5px">80</text>
<text x="21" y="153.05" class="yt" style="font-size:5.5px">100</text>
<line x1="29" y1="242.6" x2="116" y2="242.6" class="ax"/>
<line x1="29.6" y1="242.6" x2="29.6" y2="244.2" class="tk"/>
<text x="29.6" y="250.3" class="xt" style="font-size:5.5px">-10.5</text>
<line x1="42.9" y1="242.6" x2="42.9" y2="244.2" class="tk"/>
<text x="42.9" y="250.3" class="xt" style="font-size:5.5px">-9.5</text>
<line x1="56.2" y1="242.6" x2="56.2" y2="244.2" class="tk"/>
<text x="56.2" y="250.3" class="xt" style="font-size:5.5px">-8.5</text>
<line x1="69.5" y1="242.6" x2="69.5" y2="244.2" class="tk"/>
<text x="69.5" y="250.3" class="xt" style="font-size:5.5px">-7.5</text>
<line x1="82.8" y1="242.6" x2="82.8" y2="244.2" class="tk"/>
<text x="82.8" y="250.3" class="xt" style="font-size:5.5px">-6.5</text>
<line x1="96.1" y1="242.6" x2="96.1" y2="244.2" class="tk"/>
<text x="96.1" y="250.3" class="xt" style="font-size:5.5px">-5.5</text>
<line x1="109.4" y1="242.6" x2="109.4" y2="244.2" class="tk"/>
<text x="109.4" y="250.3" class="xt" style="font-size:5.5px">-4.5</text>
<text x="72.5" y="259.7" class="xl" style="font-size:7.4px">[epinephrine] (log M)</text>
<text transform="translate(7.2,193.6) rotate(-90)" class="yl" style="font-size:7.4px">Aggregation (%)</text>
<line x1="52.5" y1="229.56" x2="52.5" y2="226.5" class="eb"/>
<line x1="50.7" y1="226.5" x2="54.3" y2="226.5" class="eb"/>
<line x1="73.5" y1="220.97" x2="73.5" y2="214.5" class="eb"/>
<line x1="71.7" y1="214.5" x2="75.3" y2="214.5" class="eb"/>
<line x1="83.5" y1="194.5" x2="83.5" y2="169.5" class="eb"/>
<line x1="81.7" y1="169.5" x2="85.3" y2="169.5" class="eb"/>
<line x1="83.5" y1="194.5" x2="83.5" y2="216.5" class="eb"/>
<line x1="81.7" y1="216.5" x2="85.3" y2="216.5" class="eb"/>
<line x1="93.5" y1="163.01" x2="93.5" y2="155.5" class="eb"/>
<line x1="91.7" y1="155.5" x2="95.3" y2="155.5" class="eb"/>
<line x1="93.5" y1="163.01" x2="93.5" y2="178.5" class="eb"/>
<line x1="91.7" y1="178.5" x2="95.3" y2="178.5" class="eb"/>
<line x1="103.5" y1="163.52" x2="103.5" y2="156.5" class="eb"/>
<line x1="101.7" y1="156.5" x2="105.3" y2="156.5" class="eb"/>
<polyline points="42.9,232.73 43.2,232.73 43.5,232.73 43.8,232.72 44.1,232.72 44.41,232.71 44.71,232.71 45.01,232.7 45.31,232.7 45.61,232.69 45.91,232.69 46.21,232.68 46.51,232.67 46.82,232.67 47.12,232.66 47.42,232.65 47.72,232.64 48.02,232.64 48.32,232.63 48.62,232.62 48.92,232.61 49.23,232.6 49.53,232.59 49.83,232.57 50.13,232.56 50.43,232.55 50.73,232.53 51.03,232.52 51.33,232.5 51.64,232.49 51.94,232.47 52.24,232.45 52.54,232.43 52.84,232.41 53.14,232.39 53.44,232.36 53.74,232.34 54.05,232.31 54.35,232.29 54.65,232.26 54.95,232.23 55.25,232.19 55.55,232.16 55.85,232.12 56.15,232.09 56.46,232.05 56.76,232 57.06,231.96 57.36,231.91 57.66,231.86 57.96,231.81 58.26,231.75 58.56,231.7 58.87,231.63 59.17,231.57 59.47,231.5 59.77,231.43 60.07,231.35 60.37,231.27 60.67,231.19 60.97,231.1 61.28,231 61.58,230.9 61.88,230.8 62.18,230.69 62.48,230.57 62.78,230.45 63.08,230.32 63.38,230.18 63.69,230.04 63.99,229.89 64.29,229.73 64.59,229.56 64.89,229.39 65.19,229.21 65.49,229.01 65.79,228.81 66.1,228.6 66.4,228.37 66.7,228.14 67,227.89 67.3,227.63 67.6,227.36 67.9,227.08 68.2,226.78 68.51,226.47 68.81,226.14 69.11,225.8 69.41,225.44 69.71,225.07 70.01,224.68 70.31,224.28 70.61,223.86 70.92,223.42 71.22,222.96 71.52,222.48 71.82,221.99 72.12,221.47 72.42,220.94 72.72,220.39 73.02,219.81 73.33,219.22 73.63,218.61 73.93,217.97 74.23,217.32 74.53,216.65 74.83,215.95 75.13,215.24 75.43,214.51 75.74,213.76 76.04,212.99 76.34,212.2 76.64,211.39 76.94,210.57 77.24,209.73 77.54,208.88 77.84,208.01 78.15,207.13 78.45,206.23 78.75,205.33 79.05,204.42 79.35,203.49 79.65,202.56 79.95,201.63 80.25,200.69 80.56,199.75 80.86,198.8 81.16,197.86 81.46,196.91 81.76,195.97 82.06,195.04 82.36,194.11 82.66,193.19 82.97,192.27 83.27,191.37 83.57,190.47 83.87,189.59 84.17,188.72 84.47,187.86 84.77,187.02 85.07,186.2 85.38,185.39 85.68,184.6 85.98,183.83 86.28,183.08 86.58,182.34 86.88,181.63 87.18,180.93 87.48,180.26 87.79,179.6 88.09,178.97 88.39,178.35 88.69,177.76 88.99,177.18 89.29,176.63 89.59,176.09 89.89,175.57 90.2,175.08 90.5,174.6 90.8,174.14 91.1,173.7 91.4,173.27 91.7,172.87 92,172.48 92.3,172.1 92.61,171.75 92.91,171.4 93.21,171.08 93.51,170.76 93.81,170.46 94.11,170.18 94.41,169.91 94.71,169.65 95.02,169.4 95.32,169.16 95.62,168.94 95.92,168.72 96.22,168.52 96.52,168.32 96.82,168.14 97.12,167.96 97.43,167.8 97.73,167.64 98.03,167.49 98.33,167.34 98.63,167.21 98.93,167.08 99.23,166.95 99.53,166.84 99.84,166.72 100.14,166.62 100.44,166.52 100.74,166.42 101.04,166.33 101.34,166.25 101.64,166.17 101.94,166.09 102.25,166.02 102.55,165.95 102.85,165.88 103.15,165.82" class="cv"/>
<polyline points="42.9,234.91 43.2,234.91 43.5,234.91 43.8,234.91 44.1,234.91 44.41,234.91 44.71,234.9 45.01,234.9 45.31,234.9 45.61,234.9 45.91,234.9 46.21,234.9 46.51,234.9 46.82,234.9 47.12,234.89 47.42,234.89 47.72,234.89 48.02,234.89 48.32,234.89 48.62,234.89 48.92,234.88 49.23,234.88 49.53,234.88 49.83,234.88 50.13,234.87 50.43,234.87 50.73,234.87 51.03,234.86 51.33,234.86 51.64,234.86 51.94,234.85 52.24,234.85 52.54,234.85 52.84,234.84 53.14,234.84 53.44,234.83 53.74,234.83 54.05,234.82 54.35,234.82 54.65,234.81 54.95,234.8 55.25,234.8 55.55,234.79 55.85,234.78 56.15,234.77 56.46,234.77 56.76,234.76 57.06,234.75 57.36,234.74 57.66,234.73 57.96,234.72 58.26,234.71 58.56,234.69 58.87,234.68 59.17,234.67 59.47,234.65 59.77,234.64 60.07,234.62 60.37,234.6 60.67,234.59 60.97,234.57 61.28,234.55 61.58,234.53 61.88,234.5 62.18,234.48 62.48,234.46 62.78,234.43 63.08,234.4 63.38,234.37 63.69,234.34 63.99,234.31 64.29,234.28 64.59,234.24 64.89,234.2 65.19,234.16 65.49,234.12 65.79,234.07 66.1,234.03 66.4,233.98 66.7,233.93 67,233.87 67.3,233.81 67.6,233.75 67.9,233.69 68.2,233.62 68.51,233.55 68.81,233.47 69.11,233.39 69.41,233.31 69.71,233.22 70.01,233.12 70.31,233.03 70.61,232.92 70.92,232.81 71.22,232.7 71.52,232.58 71.82,232.45 72.12,232.32 72.42,232.18 72.72,232.03 73.02,231.88 73.33,231.71 73.63,231.54 73.93,231.36 74.23,231.17 74.53,230.98 74.83,230.77 75.13,230.55 75.43,230.32 75.74,230.08 76.04,229.83 76.34,229.57 76.64,229.3 76.94,229.01 77.24,228.71 77.54,228.39 77.84,228.07 78.15,227.72 78.45,227.37 78.75,227 79.05,226.61 79.35,226.2 79.65,225.78 79.95,225.35 80.25,224.89 80.56,224.42 80.86,223.93 81.16,223.43 81.46,222.9 81.76,222.36 82.06,221.8 82.36,221.22 82.66,220.62 82.97,220.01 83.27,219.37 83.57,218.72 83.87,218.05 84.17,217.37 84.47,216.66 84.77,215.94 85.07,215.21 85.38,214.45 85.68,213.69 85.98,212.91 86.28,212.11 86.58,211.31 86.88,210.49 87.18,209.66 87.48,208.83 87.79,207.98 88.09,207.13 88.39,206.27 88.69,205.41 88.99,204.55 89.29,203.68 89.59,202.81 89.89,201.94 90.2,201.08 90.5,200.22 90.8,199.36 91.1,198.51 91.4,197.66 91.7,196.83 92,196 92.3,195.18 92.61,194.37 92.91,193.58 93.21,192.8 93.51,192.03 93.81,191.28 94.11,190.54 94.41,189.82 94.71,189.12 95.02,188.43 95.32,187.76 95.62,187.11 95.92,186.47 96.22,185.86 96.52,185.26 96.82,184.68 97.12,184.12 97.43,183.57 97.73,183.05 98.03,182.54 98.33,182.05 98.63,181.58 98.93,181.12 99.23,180.69 99.53,180.26 99.84,179.86 100.14,179.47 100.44,179.1 100.74,178.74 101.04,178.4 101.34,178.07 101.64,177.76 101.94,177.45 102.25,177.17 102.55,176.89 102.85,176.63 103.15,176.38" class="cv"/>
<rect x="40.5" y="234.5" width="4" height="4" class="sq"/>
<rect x="50.5" y="227.5" width="4" height="4" class="sq"/>
<rect x="60.5" y="231.5" width="4" height="4" class="sq"/>
<rect x="71.5" y="218.5" width="4" height="4" class="sq"/>
<rect x="81.5" y="192.5" width="4" height="4" class="sq"/>
<rect x="91.5" y="161.5" width="4" height="4" class="sq"/>
<rect x="101.5" y="161.5" width="4" height="4" class="sq"/>
<polygon points="40.5,238.3 45.3,238.3 42.9,233.89" class="tr"/>
<polygon points="50.54,234.56 55.34,234.56 52.94,230.15" class="tr"/>
<polygon points="60.58,238.3 65.38,238.3 62.98,233.89" class="tr"/>
<polygon points="70.62,230.81 75.42,230.81 73.02,226.4" class="tr"/>
<polygon points="80.67,223.07 85.47,223.07 83.07,218.66" class="tr"/>
<polygon points="90.71,194.9 95.51,194.9 93.11,190.49" class="tr"/>
<polygon points="100.75,178.13 105.55,178.13 103.15,173.72" class="tr"/>
</g>
<g>
<path d="M153.3,151.1H154.9V236.4" class="ax"/>
<line x1="153.3" y1="236.2" x2="154.9" y2="236.2" class="tk"/>
<line x1="153.3" y1="219.18" x2="154.9" y2="219.18" class="tk"/>
<line x1="153.3" y1="202.16" x2="154.9" y2="202.16" class="tk"/>
<line x1="153.3" y1="185.14" x2="154.9" y2="185.14" class="tk"/>
<line x1="153.3" y1="168.12" x2="154.9" y2="168.12" class="tk"/>
<text x="152.5" y="238.15" class="yt" style="font-size:5.5px">0</text>
<text x="152.5" y="221.13" class="yt" style="font-size:5.5px">20</text>
<text x="152.5" y="204.11" class="yt" style="font-size:5.5px">40</text>
<text x="152.5" y="187.09" class="yt" style="font-size:5.5px">60</text>
<text x="152.5" y="170.07" class="yt" style="font-size:5.5px">80</text>
<text x="152.5" y="153.05" class="yt" style="font-size:5.5px">100</text>
<line x1="161" y1="242.6" x2="247.3" y2="242.6" class="ax"/>
<line x1="161.4" y1="242.6" x2="161.4" y2="244.2" class="tk"/>
<text x="161.4" y="250.3" class="xt" style="font-size:5.5px">-8.5</text>
<line x1="180.3" y1="242.6" x2="180.3" y2="244.2" class="tk"/>
<text x="180.3" y="250.3" class="xt" style="font-size:5.5px">-7.5</text>
<line x1="199.2" y1="242.6" x2="199.2" y2="244.2" class="tk"/>
<text x="199.2" y="250.3" class="xt" style="font-size:5.5px">-6.5</text>
<line x1="218.1" y1="242.6" x2="218.1" y2="244.2" class="tk"/>
<text x="218.1" y="250.3" class="xt" style="font-size:5.5px">-5.5</text>
<line x1="237" y1="242.6" x2="237" y2="244.2" class="tk"/>
<text x="237" y="250.3" class="xt" style="font-size:5.5px">-4.5</text>
<text x="203.9" y="259.7" class="xl" style="font-size:7.4px">[TRAP-6] (log M)</text>
<text transform="translate(138.4,193.6) rotate(-90)" class="yl" style="font-size:7.4px">Aggregation (%)</text>
<line x1="199.5" y1="227.95" x2="199.5" y2="220.5" class="eb"/>
<line x1="197.7" y1="220.5" x2="201.3" y2="220.5" class="eb"/>
<line x1="209.5" y1="200.97" x2="209.5" y2="159.5" class="eb"/>
<line x1="207.7" y1="159.5" x2="211.3" y2="159.5" class="eb"/>
<line x1="209.5" y1="200.97" x2="209.5" y2="214.5" class="eb"/>
<line x1="207.7" y1="214.5" x2="211.3" y2="214.5" class="eb"/>
<polyline points="180.3,233.5 180.59,233.49 180.89,233.48 181.18,233.47 181.48,233.45 181.77,233.44 182.07,233.43 182.36,233.41 182.66,233.4 182.95,233.38 183.25,233.37 183.54,233.35 183.84,233.33 184.13,233.31 184.43,233.29 184.72,233.26 185.02,233.24 185.31,233.21 185.61,233.18 185.9,233.15 186.2,233.12 186.49,233.09 186.79,233.05 187.08,233.01 187.38,232.97 187.67,232.93 187.97,232.88 188.26,232.84 188.56,232.78 188.85,232.73 189.15,232.67 189.44,232.61 189.73,232.54 190.03,232.47 190.32,232.4 190.62,232.32 190.91,232.23 191.21,232.14 191.5,232.04 191.8,231.94 192.09,231.83 192.39,231.72 192.68,231.6 192.98,231.47 193.27,231.33 193.57,231.19 193.86,231.03 194.16,230.87 194.45,230.7 194.75,230.51 195.04,230.32 195.34,230.11 195.63,229.89 195.93,229.66 196.22,229.42 196.52,229.16 196.81,228.89 197.11,228.6 197.4,228.29 197.7,227.97 197.99,227.63 198.29,227.27 198.58,226.89 198.87,226.5 199.17,226.08 199.46,225.64 199.76,225.18 200.05,224.69 200.35,224.18 200.64,223.64 200.94,223.08 201.23,222.5 201.53,221.88 201.82,221.24 202.12,220.57 202.41,219.88 202.71,219.15 203,218.4 203.3,217.61 203.59,216.8 203.89,215.95 204.18,215.08 204.48,214.18 204.77,213.25 205.07,212.29 205.36,211.3 205.66,210.29 205.95,209.25 206.25,208.19 206.54,207.11 206.84,206 207.13,204.87 207.43,203.73 207.72,202.56 208.01,201.39 208.31,200.2 208.6,199 208.9,197.79 209.19,196.58 209.49,195.36 209.78,194.15 210.08,192.93 210.37,191.72 210.67,190.51 210.96,189.32 211.26,188.13 211.55,186.96 211.85,185.8 212.14,184.66 212.44,183.54 212.73,182.44 213.03,181.36 213.32,180.3 213.62,179.27 213.91,178.27 214.21,177.29 214.5,176.34 214.8,175.42 215.09,174.52 215.39,173.66 215.68,172.82 215.98,172.02 216.27,171.24 216.57,170.49 216.86,169.78 217.16,169.09 217.45,168.43 217.74,167.79 218.04,167.19 218.33,166.61 218.63,166.06 218.92,165.53 219.22,165.02 219.51,164.54 219.81,164.09 220.1,163.65 220.4,163.24 220.69,162.85 220.99,162.48 221.28,162.12 221.58,161.79 221.87,161.47 222.17,161.17 222.46,160.89 222.76,160.62 223.05,160.37 223.35,160.12 223.64,159.9 223.94,159.68 224.23,159.48 224.53,159.29 224.82,159.11 225.12,158.94 225.41,158.78 225.71,158.62 226,158.48 226.3,158.35 226.59,158.22 226.88,158.1 227.18,157.99 227.47,157.88 227.77,157.78 228.06,157.69 228.36,157.6 228.65,157.51 228.95,157.44 229.24,157.36 229.54,157.29 229.83,157.23 230.13,157.17 230.42,157.11 230.72,157.05 231.01,157 231.31,156.95 231.6,156.91 231.9,156.87 232.19,156.83 232.49,156.79 232.78,156.75 233.08,156.72 233.37,156.69 233.67,156.66 233.96,156.63 234.26,156.61 234.55,156.58 234.85,156.56 235.14,156.54 235.44,156.52 235.73,156.5 236.02,156.48 236.32,156.46 236.61,156.45 236.91,156.43 237.2,156.42 237.5,156.41 237.79,156.4 238.09,156.38 238.38,156.37 238.68,156.36 238.97,156.35 239.27,156.34" class="cv"/>
<polyline points="180.3,235.77 180.59,235.77 180.89,235.77 181.18,235.77 181.48,235.77 181.77,235.77 182.07,235.77 182.36,235.77 182.66,235.77 182.95,235.77 183.25,235.77 183.54,235.77 183.84,235.77 184.13,235.77 184.43,235.77 184.72,235.77 185.02,235.77 185.31,235.77 185.61,235.77 185.9,235.77 186.2,235.77 186.49,235.77 186.79,235.77 187.08,235.77 187.38,235.77 187.67,235.77 187.97,235.77 188.26,235.77 188.56,235.77 188.85,235.77 189.15,235.77 189.44,235.77 189.73,235.77 190.03,235.77 190.32,235.77 190.62,235.77 190.91,235.77 191.21,235.77 191.5,235.77 191.8,235.77 192.09,235.77 192.39,235.77 192.68,235.77 192.98,235.77 193.27,235.77 193.57,235.77 193.86,235.77 194.16,235.77 194.45,235.77 194.75,235.77 195.04,235.77 195.34,235.77 195.63,235.77 195.93,235.77 196.22,235.77 196.52,235.77 196.81,235.77 197.11,235.77 197.4,235.77 197.7,235.77 197.99,235.76 198.29,235.76 198.58,235.76 198.87,235.76 199.17,235.75 199.46,235.75 199.76,235.74 200.05,235.74 200.35,235.73 200.64,235.72 200.94,235.71 201.23,235.69 201.53,235.68 201.82,235.66 202.12,235.63 202.41,235.6 202.71,235.56 203,235.52 203.3,235.47 203.59,235.4 203.89,235.32 204.18,235.23 204.48,235.11 204.77,234.97 205.07,234.81 205.36,234.6 205.66,234.36 205.95,234.07 206.25,233.72 206.54,233.29 206.84,232.79 207.13,232.19 207.43,231.47 207.72,230.62 208.01,229.62 208.31,228.44 208.6,227.06 208.9,225.45 209.19,223.61 209.49,221.5 209.78,219.12 210.08,216.47 210.37,213.54 210.67,210.35 210.96,206.95 211.26,203.36 211.55,199.65 211.85,195.88 212.14,192.13 212.44,188.45 212.73,184.91 213.03,181.56 213.32,178.44 213.62,175.59 213.91,173.01 214.21,170.71 214.5,168.68 214.8,166.9 215.09,165.37 215.39,164.04 215.68,162.92 215.98,161.96 216.27,161.15 216.57,160.46 216.86,159.89 217.16,159.41 217.45,159.01 217.74,158.68 218.04,158.4 218.33,158.17 218.63,157.98 218.92,157.82 219.22,157.69 219.51,157.58 219.81,157.49 220.1,157.41 220.4,157.35 220.69,157.3 220.99,157.26 221.28,157.22 221.58,157.19 221.87,157.17 222.17,157.15 222.46,157.13 222.76,157.12 223.05,157.11 223.35,157.1 223.64,157.09 223.94,157.09 224.23,157.08 224.53,157.08 224.82,157.07 225.12,157.07 225.41,157.07 225.71,157.07 226,157.06 226.3,157.06 226.59,157.06 226.88,157.06 227.18,157.06 227.47,157.06 227.77,157.06 228.06,157.06 228.36,157.06 228.65,157.06 228.95,157.06 229.24,157.06 229.54,157.06 229.83,157.06 230.13,157.06 230.42,157.06 230.72,157.06 231.01,157.06 231.31,157.06 231.6,157.06 231.9,157.06 232.19,157.06 232.49,157.06 232.78,157.06 233.08,157.06 233.37,157.06 233.67,157.06 233.96,157.06 234.26,157.06 234.55,157.06 234.85,157.06 235.14,157.06 235.44,157.06 235.73,157.06 236.02,157.06 236.32,157.06 236.61,157.06 236.91,157.06 237.2,157.06 237.5,157.06 237.79,157.06 238.09,157.06 238.38,157.06 238.68,157.06 238.97,157.06 239.27,157.06" class="cv"/>
<rect x="178.5" y="234.5" width="4" height="4" class="sq"/>
<rect x="188.5" y="226.5" width="4" height="4" class="sq"/>
<rect x="197.5" y="225.5" width="4" height="4" class="sq"/>
<rect x="207.5" y="198.5" width="4" height="4" class="sq"/>
<rect x="217.5" y="155.5" width="4" height="4" class="sq"/>
<rect x="227.5" y="152.5" width="4" height="4" class="sq"/>
<rect x="237.5" y="152.5" width="4" height="4" class="sq"/>
<polygon points="177.9,238.3 182.7,238.3 180.3,233.89" class="tr"/>
<polygon points="187.73,238.3 192.53,238.3 190.13,233.89" class="tr"/>
<polygon points="197.56,238.3 202.36,238.3 199.96,233.89" class="tr"/>
<polygon points="207.38,225.11 212.18,225.11 209.78,220.7" class="tr"/>
<polygon points="217.21,158.31 222.01,158.31 219.61,153.9" class="tr"/>
<polygon points="227.04,156.6 231.84,156.6 229.44,152.19" class="tr"/>
<polygon points="236.87,160.18 241.67,160.18 239.27,155.77" class="tr"/>
</g>
<g>
<path d="M287.2,151.1H288.8V236.4" class="ax"/>
<line x1="287.2" y1="236.2" x2="288.8" y2="236.2" class="tk"/>
<line x1="287.2" y1="219.18" x2="288.8" y2="219.18" class="tk"/>
<line x1="287.2" y1="202.16" x2="288.8" y2="202.16" class="tk"/>
<line x1="287.2" y1="185.14" x2="288.8" y2="185.14" class="tk"/>
<line x1="287.2" y1="168.12" x2="288.8" y2="168.12" class="tk"/>
<text x="286.4" y="238.15" class="yt" style="font-size:5.5px">0</text>
<text x="286.4" y="221.13" class="yt" style="font-size:5.5px">20</text>
<text x="286.4" y="204.11" class="yt" style="font-size:5.5px">40</text>
<text x="286.4" y="187.09" class="yt" style="font-size:5.5px">60</text>
<text x="286.4" y="170.07" class="yt" style="font-size:5.5px">80</text>
<text x="286.4" y="153.05" class="yt" style="font-size:5.5px">100</text>
<line x1="294.4" y1="242.6" x2="380.7" y2="242.6" class="ax"/>
<line x1="294.8" y1="242.6" x2="294.8" y2="244.2" class="tk"/>
<text x="294.8" y="250.3" class="xt" style="font-size:5.5px">-9.5</text>
<line x1="310.42" y1="242.6" x2="310.42" y2="244.2" class="tk"/>
<text x="310.42" y="250.3" class="xt" style="font-size:5.5px">-8.5</text>
<line x1="326.04" y1="242.6" x2="326.04" y2="244.2" class="tk"/>
<text x="326.04" y="250.3" class="xt" style="font-size:5.5px">-7.5</text>
<line x1="341.66" y1="242.6" x2="341.66" y2="244.2" class="tk"/>
<text x="341.66" y="250.3" class="xt" style="font-size:5.5px">-6.5</text>
<line x1="357.28" y1="242.6" x2="357.28" y2="244.2" class="tk"/>
<text x="357.28" y="250.3" class="xt" style="font-size:5.5px">-5.5</text>
<line x1="372.9" y1="242.6" x2="372.9" y2="244.2" class="tk"/>
<text x="372.9" y="250.3" class="xt" style="font-size:5.5px">-4.5</text>
<text x="338" y="259.7" class="xl" style="font-size:7.4px">[U46619] (log M)</text>
<text transform="translate(272.3,193.6) rotate(-90)" class="yl" style="font-size:7.4px">Aggregation (%)</text>
<line x1="323.5" y1="228.2" x2="323.5" y2="223.5" class="eb"/>
<line x1="321.7" y1="223.5" x2="325.3" y2="223.5" class="eb"/>
<line x1="333.5" y1="223.01" x2="333.5" y2="217.5" class="eb"/>
<line x1="331.7" y1="217.5" x2="335.3" y2="217.5" class="eb"/>
<line x1="333.5" y1="223.01" x2="333.5" y2="228.5" class="eb"/>
<line x1="331.7" y1="228.5" x2="335.3" y2="228.5" class="eb"/>
<line x1="343.5" y1="162.33" x2="343.5" y2="153.5" class="eb"/>
<line x1="341.7" y1="153.5" x2="345.3" y2="153.5" class="eb"/>
<line x1="343.5" y1="162.33" x2="343.5" y2="188.5" class="eb"/>
<line x1="341.7" y1="188.5" x2="345.3" y2="188.5" class="eb"/>
<polyline points="312.76,231.51 313.07,231.5 313.38,231.5 313.69,231.5 314,231.5 314.31,231.5 314.62,231.49 314.93,231.49 315.24,231.49 315.55,231.48 315.86,231.48 316.17,231.48 316.47,231.47 316.78,231.47 317.09,231.46 317.4,231.46 317.71,231.45 318.02,231.44 318.33,231.43 318.64,231.42 318.95,231.41 319.26,231.4 319.57,231.39 319.88,231.38 320.19,231.36 320.49,231.35 320.8,231.33 321.11,231.31 321.42,231.29 321.73,231.26 322.04,231.24 322.35,231.21 322.66,231.17 322.97,231.14 323.28,231.1 323.59,231.06 323.9,231.01 324.21,230.95 324.52,230.9 324.82,230.83 325.13,230.76 325.44,230.68 325.75,230.6 326.06,230.5 326.37,230.39 326.68,230.28 326.99,230.15 327.3,230.01 327.61,229.86 327.92,229.69 328.23,229.5 328.54,229.3 328.85,229.07 329.15,228.83 329.46,228.56 329.77,228.26 330.08,227.93 330.39,227.58 330.7,227.19 331.01,226.77 331.32,226.3 331.63,225.8 331.94,225.25 332.25,224.65 332.56,224.01 332.87,223.31 333.18,222.55 333.48,221.73 333.79,220.85 334.1,219.91 334.41,218.9 334.72,217.82 335.03,216.66 335.34,215.44 335.65,214.14 335.96,212.77 336.27,211.33 336.58,209.83 336.89,208.25 337.2,206.61 337.51,204.92 337.81,203.18 338.12,201.39 338.43,199.56 338.74,197.7 339.05,195.82 339.36,193.93 339.67,192.04 339.98,190.16 340.29,188.29 340.6,186.44 340.91,184.63 341.22,182.86 341.53,181.14 341.83,179.48 342.14,177.87 342.45,176.32 342.76,174.85 343.07,173.44 343.38,172.11 343.69,170.84 344,169.65 344.31,168.54 344.62,167.49 344.93,166.51 345.24,165.59 345.55,164.75 345.86,163.96 346.16,163.23 346.47,162.55 346.78,161.93 347.09,161.36 347.4,160.83 347.71,160.35 348.02,159.9 348.33,159.5 348.64,159.12 348.95,158.78 349.26,158.47 349.57,158.19 349.88,157.93 350.19,157.69 350.49,157.48 350.8,157.28 351.11,157.1 351.42,156.94 351.73,156.79 352.04,156.66 352.35,156.54 352.66,156.43 352.97,156.33 353.28,156.24 353.59,156.15 353.9,156.08 354.21,156.01 354.52,155.95 354.82,155.89 355.13,155.84 355.44,155.8 355.75,155.76 356.06,155.72 356.37,155.68 356.68,155.65 356.99,155.62 357.3,155.6 357.61,155.58 357.92,155.56 358.23,155.54 358.54,155.52 358.85,155.5 359.15,155.49 359.46,155.48 359.77,155.47 360.08,155.46 360.39,155.45 360.7,155.44 361.01,155.43 361.32,155.42 361.63,155.42 361.94,155.41 362.25,155.4 362.56,155.4 362.87,155.4 363.17,155.39 363.48,155.39 363.79,155.39 364.1,155.38 364.41,155.38 364.72,155.38 365.03,155.38 365.34,155.37 365.65,155.37 365.96,155.37 366.27,155.37 366.58,155.37 366.89,155.37 367.2,155.37 367.5,155.36 367.81,155.36 368.12,155.36 368.43,155.36 368.74,155.36 369.05,155.36 369.36,155.36 369.67,155.36 369.98,155.36 370.29,155.36 370.6,155.36 370.91,155.36 371.22,155.36 371.53,155.36 371.83,155.36 372.14,155.36 372.45,155.36 372.76,155.36 373.07,155.36 373.38,155.36 373.69,155.36 374,155.36 374.31,155.36 374.62,155.36" class="cv"/>
<polyline points="312.76,233.14 313.07,233.14 313.38,233.14 313.69,233.14 314,233.14 314.31,233.14 314.62,233.14 314.93,233.14 315.24,233.14 315.55,233.14 315.86,233.14 316.17,233.14 316.47,233.14 316.78,233.14 317.09,233.14 317.4,233.14 317.71,233.14 318.02,233.14 318.33,233.14 318.64,233.14 318.95,233.14 319.26,233.14 319.57,233.14 319.88,233.14 320.19,233.14 320.49,233.14 320.8,233.14 321.11,233.14 321.42,233.14 321.73,233.14 322.04,233.14 322.35,233.14 322.66,233.14 322.97,233.14 323.28,233.14 323.59,233.14 323.9,233.14 324.21,233.14 324.52,233.14 324.82,233.14 325.13,233.14 325.44,233.14 325.75,233.14 326.06,233.14 326.37,233.14 326.68,233.14 326.99,233.14 327.3,233.14 327.61,233.14 327.92,233.14 328.23,233.14 328.54,233.14 328.85,233.14 329.15,233.14 329.46,233.14 329.77,233.14 330.08,233.14 330.39,233.14 330.7,233.14 331.01,233.14 331.32,233.14 331.63,233.14 331.94,233.14 332.25,233.14 332.56,233.14 332.87,233.14 333.18,233.14 333.48,233.14 333.79,233.14 334.1,233.14 334.41,233.14 334.72,233.14 335.03,233.14 335.34,233.14 335.65,233.14 335.96,233.14 336.27,233.14 336.58,233.14 336.89,233.14 337.2,233.14 337.51,233.14 337.81,233.14 338.12,233.14 338.43,233.14 338.74,233.14 339.05,233.14 339.36,233.14 339.67,233.14 339.98,233.14 340.29,233.14 340.6,233.14 340.91,233.14 341.22,233.14 341.53,233.14 341.83,233.14 342.14,233.14 342.45,233.14 342.76,233.14 343.07,233.14 343.38,233.14 343.69,233.14 344,233.14 344.31,233.14 344.62,233.14 344.93,233.14 345.24,233.14 345.55,233.14 345.86,233.14 346.16,233.14 346.47,233.14 346.78,233.14 347.09,233.14 347.4,233.14 347.71,233.14 348.02,233.14 348.33,233.13 348.64,233.13 348.95,233.13 349.26,233.13 349.57,233.13 349.88,233.12 350.19,233.11 350.49,233.1 350.8,233.09 351.11,233.06 351.42,233.02 351.73,232.97 352.04,232.88 352.35,232.75 352.66,232.55 352.97,232.26 353.28,231.83 353.59,231.18 353.9,230.22 354.21,228.82 354.52,226.81 354.82,223.98 355.13,220.11 355.44,215.04 355.75,208.74 356.06,201.42 356.37,193.52 356.68,185.68 356.99,178.52 357.3,172.43 357.61,167.59 357.92,163.92 358.23,161.26 358.54,159.38 358.85,158.07 359.15,157.18 359.46,156.57 359.77,156.17 360.08,155.9 360.39,155.71 360.7,155.59 361.01,155.51 361.32,155.46 361.63,155.42 361.94,155.4 362.25,155.39 362.56,155.38 362.87,155.37 363.17,155.36 363.48,155.36 363.79,155.36 364.1,155.36 364.41,155.36 364.72,155.36 365.03,155.36 365.34,155.36 365.65,155.36 365.96,155.36 366.27,155.36 366.58,155.36 366.89,155.36 367.2,155.36 367.5,155.36 367.81,155.36 368.12,155.36 368.43,155.36 368.74,155.36 369.05,155.36 369.36,155.36 369.67,155.36 369.98,155.36 370.29,155.36 370.6,155.36 370.91,155.36 371.22,155.36 371.53,155.36 371.83,155.36 372.14,155.36 372.45,155.36 372.76,155.36 373.07,155.36 373.38,155.36 373.69,155.36 374,155.36 374.31,155.36 374.62,155.36" class="cv"/>
<rect x="310.5" y="234.5" width="4" height="4" class="sq"/>
<rect x="321.5" y="226.5" width="4" height="4" class="sq"/>
<rect x="331.5" y="221.5" width="4" height="4" class="sq"/>
<rect x="341.5" y="160.5" width="4" height="4" class="sq"/>
<rect x="351.5" y="153.5" width="4" height="4" class="sq"/>
<rect x="362.5" y="151.5" width="4" height="4" class="sq"/>
<rect x="372.5" y="151.5" width="4" height="4" class="sq"/>
<polygon points="310.36,238.3 315.16,238.3 312.76,233.89" class="tr"/>
<polygon points="320.67,237.28 325.47,237.28 323.07,232.87" class="tr"/>
<polygon points="330.98,238.13 335.78,238.13 333.38,233.72" class="tr"/>
<polygon points="341.29,230.81 346.09,230.81 343.69,226.4" class="tr"/>
<polygon points="351.6,234.9 356.4,234.9 354,230.49" class="tr"/>
<polygon points="361.91,156.86 366.71,156.86 364.31,152.45" class="tr"/>
<polygon points="372.22,157.46 377.02,157.46 374.62,153.05" class="tr"/>
</g>
<g>
<path d="M22.2,293.5H23.8V384.7" class="ax"/>
<line x1="22.2" y1="380.1" x2="23.8" y2="380.1" class="tk"/>
<line x1="22.2" y1="362.78" x2="23.8" y2="362.78" class="tk"/>
<line x1="22.2" y1="345.46" x2="23.8" y2="345.46" class="tk"/>
<line x1="22.2" y1="328.14" x2="23.8" y2="328.14" class="tk"/>
<line x1="22.2" y1="310.82" x2="23.8" y2="310.82" class="tk"/>
<text x="21.26" y="382.17" class="yt" style="font-size:5.83px">0</text>
<text x="21.26" y="364.85" class="yt" style="font-size:5.83px">20</text>
<text x="21.26" y="347.53" class="yt" style="font-size:5.83px">40</text>
<text x="21.26" y="330.21" class="yt" style="font-size:5.83px">60</text>
<text x="21.26" y="312.89" class="yt" style="font-size:5.83px">80</text>
<text x="21.26" y="295.57" class="yt" style="font-size:5.83px">100</text>
<line x1="29.8" y1="390.8" x2="121.1" y2="390.8" class="ax"/>
<line x1="30.2" y1="390.8" x2="30.2" y2="392.4" class="tk"/>
<text x="30.2" y="398.96" class="xt" style="font-size:5.83px">-5.0</text>
<line x1="50.4" y1="390.8" x2="50.4" y2="392.4" class="tk"/>
<text x="50.4" y="398.96" class="xt" style="font-size:5.83px">-4.5</text>
<line x1="70.6" y1="390.8" x2="70.6" y2="392.4" class="tk"/>
<text x="70.6" y="398.96" class="xt" style="font-size:5.83px">-4.0</text>
<line x1="90.8" y1="390.8" x2="90.8" y2="392.4" class="tk"/>
<text x="90.8" y="398.96" class="xt" style="font-size:5.83px">-3.5</text>
<line x1="111" y1="390.8" x2="111" y2="392.4" class="tk"/>
<text x="111" y="398.96" class="xt" style="font-size:5.83px">-3.0</text>
<text x="75.8" y="408.93" class="xl" style="font-size:7.84px">[AA] (log M)</text>
<text transform="translate(6.91,337.5) rotate(-90)" class="yl" style="font-size:7.84px">Aggregation (%)</text>
<line x1="60.5" y1="374.64" x2="60.5" y2="372.5" class="eb"/>
<line x1="58.7" y1="372.5" x2="62.3" y2="372.5" class="eb"/>
<line x1="80.5" y1="364.86" x2="80.5" y2="345.5" class="eb"/>
<line x1="78.7" y1="345.5" x2="82.3" y2="345.5" class="eb"/>
<line x1="80.5" y1="364.86" x2="80.5" y2="371.5" class="eb"/>
<line x1="78.7" y1="371.5" x2="82.3" y2="371.5" class="eb"/>
<line x1="90.5" y1="374.64" x2="90.5" y2="327.5" class="eb"/>
<line x1="88.7" y1="327.5" x2="92.3" y2="327.5" class="eb"/>
<line x1="100.5" y1="316.19" x2="100.5" y2="301.5" class="eb"/>
<line x1="98.7" y1="301.5" x2="102.3" y2="301.5" class="eb"/>
<line x1="100.5" y1="316.19" x2="100.5" y2="361.5" class="eb"/>
<line x1="98.7" y1="361.5" x2="102.3" y2="361.5" class="eb"/>
<polyline points="50.4,372.77 50.7,372.76 51.01,372.74 51.31,372.73 51.61,372.71 51.91,372.7 52.22,372.68 52.52,372.67 52.82,372.65 53.13,372.63 53.43,372.61 53.73,372.6 54.04,372.58 54.34,372.56 54.64,372.54 54.94,372.52 55.25,372.49 55.55,372.47 55.85,372.45 56.16,372.43 56.46,372.4 56.76,372.38 57.07,372.35 57.37,372.32 57.67,372.29 57.97,372.26 58.28,372.23 58.58,372.2 58.88,372.17 59.19,372.14 59.49,372.1 59.79,372.07 60.1,372.03 60.4,372 60.7,371.96 61.01,371.92 61.31,371.88 61.61,371.83 61.91,371.79 62.22,371.74 62.52,371.7 62.82,371.65 63.13,371.6 63.43,371.55 63.73,371.5 64.04,371.44 64.34,371.38 64.64,371.33 64.94,371.27 65.25,371.2 65.55,371.14 65.85,371.07 66.16,371 66.46,370.93 66.76,370.86 67.06,370.79 67.37,370.71 67.67,370.63 67.97,370.55 68.28,370.46 68.58,370.38 68.88,370.29 69.19,370.19 69.49,370.1 69.79,370 70.09,369.9 70.4,369.79 70.7,369.68 71,369.57 71.31,369.46 71.61,369.34 71.91,369.22 72.22,369.09 72.52,368.96 72.82,368.83 73.12,368.69 73.43,368.55 73.73,368.41 74.03,368.26 74.34,368.1 74.64,367.94 74.94,367.78 75.25,367.61 75.55,367.44 75.85,367.26 76.16,367.08 76.46,366.89 76.76,366.7 77.06,366.5 77.37,366.29 77.67,366.08 77.97,365.87 78.28,365.65 78.58,365.42 78.88,365.18 79.18,364.94 79.49,364.7 79.79,364.44 80.09,364.18 80.4,363.92 80.7,363.64 81,363.36 81.31,363.08 81.61,362.78 81.91,362.48 82.22,362.17 82.52,361.85 82.82,361.52 83.12,361.19 83.43,360.85 83.73,360.5 84.03,360.14 84.34,359.78 84.64,359.41 84.94,359.02 85.24,358.63 85.55,358.24 85.85,357.83 86.15,357.41 86.46,356.99 86.76,356.55 87.06,356.11 87.37,355.66 87.67,355.2 87.97,354.74 88.27,354.26 88.58,353.77 88.88,353.28 89.18,352.78 89.49,352.27 89.79,351.75 90.09,351.22 90.4,350.68 90.7,350.14 91,349.59 91.31,349.03 91.61,348.46 91.91,347.88 92.21,347.3 92.52,346.71 92.82,346.11 93.12,345.5 93.43,344.89 93.73,344.27 94.03,343.65 94.33,343.01 94.64,342.38 94.94,341.73 95.24,341.09 95.55,340.43 95.85,339.78 96.15,339.11 96.46,338.45 96.76,337.78 97.06,337.1 97.37,336.43 97.67,335.75 97.97,335.06 98.27,334.38 98.58,333.69 98.88,333.01 99.18,332.32 99.49,331.63 99.79,330.94 100.09,330.25 100.39,329.56 100.7,328.88 101,328.19 101.3,327.51 101.61,326.82 101.91,326.14 102.21,325.46 102.52,324.79 102.82,324.12 103.12,323.45 103.42,322.79 103.73,322.13 104.03,321.47 104.33,320.82 104.64,320.18 104.94,319.54 105.24,318.91 105.55,318.28 105.85,317.66 106.15,317.04 106.46,316.44 106.76,315.83 107.06,315.24 107.36,314.65 107.67,314.08 107.97,313.51 108.27,312.94 108.58,312.39 108.88,311.84 109.18,311.3 109.48,310.77 109.79,310.25 110.09,309.73 110.39,309.23 110.7,308.73 111,308.24" class="cv"/>
<polyline points="50.4,376.2 50.7,376.2 51.01,376.2 51.31,376.2 51.61,376.2 51.91,376.2 52.22,376.2 52.52,376.2 52.82,376.2 53.13,376.2 53.43,376.2 53.73,376.2 54.04,376.2 54.34,376.2 54.64,376.21 54.94,376.21 55.25,376.21 55.55,376.21 55.85,376.21 56.16,376.21 56.46,376.21 56.76,376.21 57.07,376.21 57.37,376.21 57.67,376.21 57.97,376.21 58.28,376.21 58.58,376.21 58.88,376.21 59.19,376.21 59.49,376.21 59.79,376.21 60.1,376.21 60.4,376.21 60.7,376.21 61.01,376.21 61.31,376.21 61.61,376.21 61.91,376.21 62.22,376.21 62.52,376.21 62.82,376.21 63.13,376.21 63.43,376.21 63.73,376.21 64.04,376.21 64.34,376.21 64.64,376.21 64.94,376.21 65.25,376.22 65.55,376.22 65.85,376.22 66.16,376.22 66.46,376.22 66.76,376.22 67.06,376.22 67.37,376.22 67.67,376.22 67.97,376.22 68.28,376.22 68.58,376.22 68.88,376.23 69.19,376.23 69.49,376.23 69.79,376.23 70.09,376.23 70.4,376.23 70.7,376.23 71,376.24 71.31,376.24 71.61,376.24 71.91,376.24 72.22,376.24 72.52,376.25 72.82,376.25 73.12,376.25 73.43,376.25 73.73,376.26 74.03,376.26 74.34,376.26 74.64,376.26 74.94,376.27 75.25,376.27 75.55,376.27 75.85,376.28 76.16,376.28 76.46,376.29 76.76,376.29 77.06,376.29 77.37,376.3 77.67,376.3 77.97,376.31 78.28,376.31 78.58,376.32 78.88,376.33 79.18,376.33 79.49,376.34 79.79,376.35 80.09,376.35 80.4,376.36 80.7,376.37 81,376.38 81.31,376.39 81.61,376.4 81.91,376.41 82.22,376.42 82.52,376.43 82.82,376.44 83.12,376.45 83.43,376.46 83.73,376.47 84.03,376.49 84.34,376.5 84.64,376.52 84.94,376.53 85.24,376.55 85.55,376.56 85.85,376.58 86.15,376.6 86.46,376.62 86.76,376.64 87.06,376.66 87.37,376.68 87.67,376.7 87.97,376.73 88.27,376.75 88.58,376.77 88.88,376.8 89.18,376.83 89.49,376.85 89.79,376.88 90.09,376.91 90.4,376.94 90.7,376.97 91,377.01 91.31,377.04 91.61,377.08 91.91,377.11 92.21,377.15 92.52,377.19 92.82,377.22 93.12,377.26 93.43,377.3 93.73,377.34 94.03,377.39 94.33,377.43 94.64,377.47 94.94,377.52 95.24,377.56 95.55,377.61 95.85,377.66 96.15,377.71 96.46,377.75 96.76,377.8 97.06,377.85 97.37,377.9 97.67,377.95 97.97,378 98.27,378.05 98.58,378.1 98.88,378.15 99.18,378.2 99.49,378.25 99.79,378.3 100.09,378.35 100.39,378.4 100.7,378.45 101,378.5 101.3,378.55 101.61,378.6 101.91,378.65 102.21,378.69 102.52,378.74 102.82,378.78 103.12,378.83 103.42,378.87 103.73,378.92 104.03,378.96 104.33,379 104.64,379.04 104.94,379.08 105.24,379.12 105.55,379.16 105.85,379.19 106.15,379.23 106.46,379.26 106.76,379.3 107.06,379.33 107.36,379.36 107.67,379.39 107.97,379.42 108.27,379.45 108.58,379.48 108.88,379.5 109.18,379.53 109.48,379.55 109.79,379.58 110.09,379.6 110.39,379.62 110.7,379.64 111,379.66" class="cv"/>
<rect x="48.5" y="378.5" width="4" height="4" class="sq"/>
<rect x="58.5" y="372.5" width="4" height="4" class="sq"/>
<rect x="68.5" y="374.5" width="4" height="4" class="sq"/>
<rect x="78.5" y="362.5" width="4" height="4" class="sq"/>
<rect x="88.5" y="372.5" width="4" height="4" class="sq"/>
<rect x="98.5" y="314.5" width="4" height="4" class="sq"/>
<rect x="109.5" y="299.5" width="4" height="4" class="sq"/>
<polygon points="47.86,377.61 52.94,377.61 50.4,382.29" class="tr"/>
<polygon points="57.96,368.69 63.04,368.69 60.5,373.37" class="tr"/>
<polygon points="68.06,377.01 73.14,377.01 70.6,381.68" class="tr"/>
<polygon points="78.16,370.51 83.24,370.51 80.7,375.19" class="tr"/>
<polygon points="88.26,377.01 93.34,377.01 90.8,381.68" class="tr"/>
<polygon points="98.36,374.67 103.44,374.67 100.9,379.34" class="tr"/>
<polygon points="108.46,377.01 113.54,377.01 111,381.68" class="tr"/>
</g>
<g>
<path d="M155.1,296.9H156.7V388.1" class="ax"/>
<line x1="155.1" y1="387.9" x2="156.7" y2="387.9" class="tk"/>
<line x1="155.1" y1="369.7" x2="156.7" y2="369.7" class="tk"/>
<line x1="155.1" y1="351.5" x2="156.7" y2="351.5" class="tk"/>
<line x1="155.1" y1="333.3" x2="156.7" y2="333.3" class="tk"/>
<line x1="155.1" y1="315.1" x2="156.7" y2="315.1" class="tk"/>
<text x="154.16" y="389.97" class="yt" style="font-size:5.83px">0</text>
<text x="154.16" y="371.77" class="yt" style="font-size:5.83px">20</text>
<text x="154.16" y="353.57" class="yt" style="font-size:5.83px">40</text>
<text x="154.16" y="335.37" class="yt" style="font-size:5.83px">60</text>
<text x="154.16" y="317.17" class="yt" style="font-size:5.83px">80</text>
<text x="154.16" y="298.97" class="yt" style="font-size:5.83px">100</text>
<line x1="163" y1="394.5" x2="254.2" y2="394.5" class="ax"/>
<line x1="163.3" y1="394.5" x2="163.3" y2="396.1" class="tk"/>
<text x="163.3" y="402.66" class="xt" style="font-size:5.83px">-9.5</text>
<line x1="179.86" y1="394.5" x2="179.86" y2="396.1" class="tk"/>
<text x="179.86" y="402.66" class="xt" style="font-size:5.83px">-8.5</text>
<line x1="196.42" y1="394.5" x2="196.42" y2="396.1" class="tk"/>
<text x="196.42" y="402.66" class="xt" style="font-size:5.83px">-7.5</text>
<line x1="212.98" y1="394.5" x2="212.98" y2="396.1" class="tk"/>
<text x="212.98" y="402.66" class="xt" style="font-size:5.83px">-6.5</text>
<line x1="229.54" y1="394.5" x2="229.54" y2="396.1" class="tk"/>
<text x="229.54" y="402.66" class="xt" style="font-size:5.83px">-5.5</text>
<line x1="246.1" y1="394.5" x2="246.1" y2="396.1" class="tk"/>
<text x="246.1" y="402.66" class="xt" style="font-size:5.83px">-4.5</text>
<text x="209" y="412.63" class="xl" style="font-size:7.84px">[ADP] (log M)</text>
<text transform="translate(139.01,342.4) rotate(-90)" class="yl" style="font-size:7.84px">Aggregation (%)</text>
<line x1="193.5" y1="383.99" x2="193.5" y2="378.5" class="eb"/>
<line x1="191.7" y1="378.5" x2="195.3" y2="378.5" class="eb"/>
<line x1="204.5" y1="387.08" x2="204.5" y2="380.5" class="eb"/>
<line x1="202.7" y1="380.5" x2="206.3" y2="380.5" class="eb"/>
<line x1="214.5" y1="378.62" x2="214.5" y2="373.5" class="eb"/>
<line x1="212.7" y1="373.5" x2="216.3" y2="373.5" class="eb"/>
<line x1="225.5" y1="368.43" x2="225.5" y2="351.5" class="eb"/>
<line x1="223.7" y1="351.5" x2="227.3" y2="351.5" class="eb"/>
<line x1="225.5" y1="368.43" x2="225.5" y2="382.5" class="eb"/>
<line x1="223.7" y1="382.5" x2="227.3" y2="382.5" class="eb"/>
<line x1="236.5" y1="312.82" x2="236.5" y2="303.5" class="eb"/>
<line x1="234.7" y1="303.5" x2="238.3" y2="303.5" class="eb"/>
<line x1="236.5" y1="312.82" x2="236.5" y2="333.5" class="eb"/>
<line x1="234.7" y1="333.5" x2="238.3" y2="333.5" class="eb"/>
<polyline points="182.51,382.44 182.83,382.44 183.16,382.44 183.48,382.44 183.81,382.44 184.13,382.44 184.46,382.44 184.78,382.44 185.1,382.44 185.43,382.44 185.75,382.44 186.08,382.44 186.4,382.44 186.73,382.44 187.05,382.44 187.38,382.44 187.7,382.44 188.02,382.44 188.35,382.44 188.67,382.44 189,382.44 189.32,382.44 189.65,382.44 189.97,382.44 190.3,382.44 190.62,382.44 190.94,382.44 191.27,382.44 191.59,382.44 191.92,382.44 192.24,382.44 192.57,382.44 192.89,382.44 193.22,382.44 193.54,382.44 193.86,382.44 194.19,382.44 194.51,382.44 194.84,382.44 195.16,382.44 195.49,382.43 195.81,382.43 196.13,382.43 196.46,382.43 196.78,382.43 197.11,382.43 197.43,382.43 197.76,382.43 198.08,382.43 198.41,382.43 198.73,382.43 199.05,382.43 199.38,382.42 199.7,382.42 200.03,382.42 200.35,382.42 200.68,382.42 201,382.42 201.33,382.41 201.65,382.41 201.97,382.41 202.3,382.41 202.62,382.4 202.95,382.4 203.27,382.4 203.6,382.39 203.92,382.39 204.25,382.38 204.57,382.38 204.89,382.37 205.22,382.37 205.54,382.36 205.87,382.35 206.19,382.34 206.52,382.33 206.84,382.32 207.16,382.31 207.49,382.3 207.81,382.29 208.14,382.27 208.46,382.26 208.79,382.24 209.11,382.22 209.44,382.2 209.76,382.18 210.08,382.16 210.41,382.13 210.73,382.1 211.06,382.07 211.38,382.04 211.71,382 212.03,381.96 212.36,381.92 212.68,381.87 213,381.82 213.33,381.76 213.65,381.7 213.98,381.63 214.3,381.55 214.63,381.47 214.95,381.38 215.28,381.29 215.6,381.18 215.92,381.07 216.25,380.94 216.57,380.8 216.9,380.66 217.22,380.49 217.55,380.32 217.87,380.13 218.19,379.92 218.52,379.69 218.84,379.45 219.17,379.18 219.49,378.89 219.82,378.58 220.14,378.24 220.47,377.88 220.79,377.48 221.11,377.05 221.44,376.59 221.76,376.09 222.09,375.56 222.41,374.98 222.74,374.36 223.06,373.7 223.39,372.99 223.71,372.23 224.03,371.42 224.36,370.55 224.68,369.64 225.01,368.66 225.33,367.63 225.66,366.55 225.98,365.4 226.31,364.2 226.63,362.95 226.95,361.63 227.28,360.27 227.6,358.85 227.93,357.38 228.25,355.87 228.58,354.33 228.9,352.74 229.22,351.12 229.55,349.48 229.87,347.82 230.2,346.15 230.52,344.48 230.85,342.8 231.17,341.13 231.5,339.48 231.82,337.84 232.14,336.23 232.47,334.65 232.79,333.11 233.12,331.61 233.44,330.16 233.77,328.76 234.09,327.4 234.42,326.1 234.74,324.86 235.06,323.67 235.39,322.54 235.71,321.47 236.04,320.45 236.36,319.49 236.69,318.59 237.01,317.74 237.33,316.94 237.66,316.19 237.98,315.49 238.31,314.84 238.63,314.23 238.96,313.66 239.28,313.14 239.61,312.65 239.93,312.19 240.25,311.77 240.58,311.38 240.9,311.02 241.23,310.69 241.55,310.39 241.88,310.1 242.2,309.84 242.53,309.6 242.85,309.38 243.17,309.18 243.5,308.99 243.82,308.82 244.15,308.66 244.47,308.51 244.8,308.38 245.12,308.26 245.45,308.14 245.77,308.04 246.09,307.95 246.42,307.86 246.74,307.78 247.07,307.71 247.39,307.64" class="cv"/>
<polyline points="182.51,387.9 182.83,387.9 183.16,387.9 183.48,387.9 183.81,387.9 184.13,387.9 184.46,387.9 184.78,387.9 185.1,387.9 185.43,387.9 185.75,387.9 186.08,387.9 186.4,387.9 186.73,387.9 187.05,387.9 187.38,387.9 187.7,387.9 188.02,387.9 188.35,387.9 188.67,387.9 189,387.9 189.32,387.9 189.65,387.9 189.97,387.9 190.3,387.9 190.62,387.9 190.94,387.9 191.27,387.9 191.59,387.9 191.92,387.9 192.24,387.9 192.57,387.9 192.89,387.9 193.22,387.9 193.54,387.9 193.86,387.9 194.19,387.9 194.51,387.9 194.84,387.9 195.16,387.9 195.49,387.9 195.81,387.9 196.13,387.9 196.46,387.9 196.78,387.9 197.11,387.9 197.43,387.9 197.76,387.9 198.08,387.9 198.41,387.9 198.73,387.9 199.05,387.9 199.38,387.9 199.7,387.9 200.03,387.9 200.35,387.9 200.68,387.9 201,387.9 201.33,387.9 201.65,387.9 201.97,387.9 202.3,387.9 202.62,387.9 202.95,387.9 203.27,387.9 203.6,387.9 203.92,387.9 204.25,387.9 204.57,387.9 204.89,387.9 205.22,387.9 205.54,387.9 205.87,387.9 206.19,387.9 206.52,387.9 206.84,387.9 207.16,387.9 207.49,387.9 207.81,387.9 208.14,387.9 208.46,387.9 208.79,387.9 209.11,387.9 209.44,387.9 209.76,387.9 210.08,387.9 210.41,387.9 210.73,387.9 211.06,387.9 211.38,387.9 211.71,387.9 212.03,387.9 212.36,387.9 212.68,387.9 213,387.9 213.33,387.9 213.65,387.9 213.98,387.9 214.3,387.9 214.63,387.9 214.95,387.9 215.28,387.9 215.6,387.9 215.92,387.9 216.25,387.9 216.57,387.9 216.9,387.9 217.22,387.9 217.55,387.9 217.87,387.9 218.19,387.9 218.52,387.9 218.84,387.9 219.17,387.9 219.49,387.9 219.82,387.9 220.14,387.9 220.47,387.9 220.79,387.9 221.11,387.9 221.44,387.9 221.76,387.9 222.09,387.9 222.41,387.9 222.74,387.9 223.06,387.9 223.39,387.9 223.71,387.9 224.03,387.9 224.36,387.9 224.68,387.9 225.01,387.9 225.33,387.9 225.66,387.9 225.98,387.9 226.31,387.9 226.63,387.9 226.95,387.9 227.28,387.9 227.6,387.9 227.93,387.9 228.25,387.9 228.58,387.9 228.9,387.9 229.22,387.9 229.55,387.9 229.87,387.9 230.2,387.9 230.52,387.9 230.85,387.9 231.17,387.9 231.5,387.9 231.82,387.9 232.14,387.9 232.47,387.9 232.79,387.9 233.12,387.9 233.44,387.9 233.77,387.9 234.09,387.89 234.42,387.88 234.74,387.83 235.06,387.68 235.39,387.22 235.71,385.85 236.04,382.01 236.36,372.92 236.69,357.97 237.01,343.68 237.33,335.59 237.66,332.3 237.98,331.14 238.31,330.76 238.63,330.63 238.96,330.59 239.28,330.58 239.61,330.57 239.93,330.57 240.25,330.57 240.58,330.57 240.9,330.57 241.23,330.57 241.55,330.57 241.88,330.57 242.2,330.57 242.53,330.57 242.85,330.57 243.17,330.57 243.5,330.57 243.82,330.57 244.15,330.57 244.47,330.57 244.8,330.57 245.12,330.57 245.45,330.57 245.77,330.57 246.09,330.57 246.42,330.57 246.74,330.57 247.07,330.57 247.39,330.57" class="cv"/>
<rect x="180.5" y="385.5" width="4" height="4" class="sq"/>
<rect x="191.5" y="381.5" width="4" height="4" class="sq"/>
<rect x="202.5" y="385.5" width="4" height="4" class="sq"/>
<rect x="212.5" y="376.5" width="4" height="4" class="sq"/>
<rect x="223.5" y="366.5" width="4" height="4" class="sq"/>
<rect x="234.5" y="310.5" width="4" height="4" class="sq"/>
<rect x="245.5" y="302.5" width="4" height="4" class="sq"/>
<polygon points="179.97,385.67 185.05,385.67 182.51,390.35" class="tr"/>
<polygon points="190.78,385.67 195.87,385.67 193.32,390.35" class="tr"/>
<polygon points="201.59,385.67 206.68,385.67 204.14,390.35" class="tr"/>
<polygon points="212.41,385.67 217.49,385.67 214.95,390.35" class="tr"/>
<polygon points="223.22,385.67 228.31,385.67 225.76,390.35" class="tr"/>
<polygon points="234.03,369.48 239.12,369.48 236.58,374.15" class="tr"/>
<polygon points="244.85,327.8 249.94,327.8 247.39,332.47" class="tr"/>
</g>
<g>
<path d="M281.2,296.9H282.8V388.2" class="ax"/>
<line x1="281.2" y1="388" x2="282.8" y2="388" class="tk"/>
<line x1="281.2" y1="369.78" x2="282.8" y2="369.78" class="tk"/>
<line x1="281.2" y1="351.56" x2="282.8" y2="351.56" class="tk"/>
<line x1="281.2" y1="333.34" x2="282.8" y2="333.34" class="tk"/>
<line x1="281.2" y1="315.12" x2="282.8" y2="315.12" class="tk"/>
<text x="280.26" y="390.07" class="yt" style="font-size:5.83px">0</text>
<text x="280.26" y="371.85" class="yt" style="font-size:5.83px">20</text>
<text x="280.26" y="353.63" class="yt" style="font-size:5.83px">40</text>
<text x="280.26" y="335.41" class="yt" style="font-size:5.83px">60</text>
<text x="280.26" y="317.19" class="yt" style="font-size:5.83px">80</text>
<text x="280.26" y="298.97" class="yt" style="font-size:5.83px">100</text>
<line x1="288.5" y1="394.5" x2="380.2" y2="394.5" class="ax"/>
<line x1="288.9" y1="394.5" x2="288.9" y2="396.1" class="tk"/>
<text x="288.9" y="402.66" class="xt" style="font-size:5.83px">-9</text>
<line x1="307.08" y1="394.5" x2="307.08" y2="396.1" class="tk"/>
<text x="307.08" y="402.66" class="xt" style="font-size:5.83px">-8</text>
<line x1="325.26" y1="394.5" x2="325.26" y2="396.1" class="tk"/>
<text x="325.26" y="402.66" class="xt" style="font-size:5.83px">-7</text>
<line x1="343.44" y1="394.5" x2="343.44" y2="396.1" class="tk"/>
<text x="343.44" y="402.66" class="xt" style="font-size:5.83px">-6</text>
<line x1="361.62" y1="394.5" x2="361.62" y2="396.1" class="tk"/>
<text x="361.62" y="402.66" class="xt" style="font-size:5.83px">-5</text>
<line x1="379.8" y1="394.5" x2="379.8" y2="396.1" class="tk"/>
<text x="379.8" y="402.66" class="xt" style="font-size:5.83px">-4</text>
<text x="334.5" y="412.63" class="xl" style="font-size:7.84px">[collagen] (log g/ml)</text>
<text transform="translate(265.21,342.4) rotate(-90)" class="yl" style="font-size:7.84px">Aggregation (%)</text>
<line x1="317.5" y1="373.15" x2="317.5" y2="344.5" class="eb"/>
<line x1="315.7" y1="344.5" x2="319.3" y2="344.5" class="eb"/>
<line x1="317.5" y1="373.15" x2="317.5" y2="381.5" class="eb"/>
<line x1="315.7" y1="381.5" x2="319.3" y2="381.5" class="eb"/>
<line x1="328.5" y1="340.63" x2="328.5" y2="315.5" class="eb"/>
<line x1="326.7" y1="315.5" x2="330.3" y2="315.5" class="eb"/>
<line x1="328.5" y1="340.63" x2="328.5" y2="371.5" class="eb"/>
<line x1="326.7" y1="371.5" x2="330.3" y2="371.5" class="eb"/>
<line x1="339.5" y1="307.29" x2="339.5" y2="300.5" class="eb"/>
<line x1="337.7" y1="300.5" x2="341.3" y2="300.5" class="eb"/>
<line x1="339.5" y1="307.29" x2="339.5" y2="335.5" class="eb"/>
<line x1="337.7" y1="335.5" x2="341.3" y2="335.5" class="eb"/>
<line x1="350.5" y1="304.92" x2="350.5" y2="300.5" class="eb"/>
<line x1="348.7" y1="300.5" x2="352.3" y2="300.5" class="eb"/>
<line x1="350.5" y1="304.92" x2="350.5" y2="316.5" class="eb"/>
<line x1="348.7" y1="316.5" x2="352.3" y2="316.5" class="eb"/>
<line x1="372.5" y1="305.55" x2="372.5" y2="300.5" class="eb"/>
<line x1="370.7" y1="300.5" x2="374.3" y2="300.5" class="eb"/>
<line x1="372.5" y1="305.55" x2="372.5" y2="315.5" class="eb"/>
<line x1="370.7" y1="315.5" x2="374.3" y2="315.5" class="eb"/>
<polyline points="307.08,377.09 307.41,376.78 307.73,376.46 308.06,376.12 308.39,375.79 308.72,375.44 309.04,375.08 309.37,374.72 309.7,374.35 310.03,373.97 310.35,373.58 310.68,373.19 311.01,372.78 311.33,372.37 311.66,371.95 311.99,371.52 312.32,371.08 312.64,370.64 312.97,370.18 313.3,369.72 313.62,369.25 313.95,368.77 314.28,368.28 314.61,367.78 314.93,367.28 315.26,366.77 315.59,366.25 315.92,365.72 316.24,365.18 316.57,364.64 316.9,364.09 317.22,363.53 317.55,362.96 317.88,362.39 318.21,361.81 318.53,361.22 318.86,360.63 319.19,360.03 319.52,359.43 319.84,358.82 320.17,358.2 320.5,357.58 320.82,356.95 321.15,356.32 321.48,355.69 321.81,355.05 322.13,354.41 322.46,353.76 322.79,353.11 323.11,352.46 323.44,351.8 323.77,351.15 324.1,350.49 324.42,349.83 324.75,349.17 325.08,348.51 325.41,347.85 325.73,347.19 326.06,346.53 326.39,345.87 326.71,345.21 327.04,344.56 327.37,343.9 327.7,343.25 328.02,342.6 328.35,341.95 328.68,341.31 329.01,340.67 329.33,340.04 329.66,339.4 329.99,338.78 330.31,338.16 330.64,337.54 330.97,336.93 331.3,336.32 331.62,335.72 331.95,335.13 332.28,334.54 332.6,333.96 332.93,333.39 333.26,332.82 333.59,332.26 333.91,331.71 334.24,331.17 334.57,330.63 334.9,330.1 335.22,329.58 335.55,329.06 335.88,328.56 336.2,328.06 336.53,327.57 336.86,327.09 337.19,326.62 337.51,326.16 337.84,325.7 338.17,325.25 338.5,324.82 338.82,324.39 339.15,323.96 339.48,323.55 339.8,323.14 340.13,322.75 340.46,322.36 340.79,321.98 341.11,321.61 341.44,321.24 341.77,320.89 342.09,320.54 342.42,320.2 342.75,319.87 343.08,319.54 343.4,319.23 343.73,318.92 344.06,318.62 344.39,318.32 344.71,318.03 345.04,317.75 345.37,317.48 345.69,317.22 346.02,316.96 346.35,316.7 346.68,316.46 347,316.22 347.33,315.98 347.66,315.76 347.98,315.53 348.31,315.32 348.64,315.11 348.97,314.9 349.29,314.71 349.62,314.51 349.95,314.33 350.28,314.14 350.6,313.97 350.93,313.79 351.26,313.63 351.58,313.46 351.91,313.31 352.24,313.15 352.57,313 352.89,312.86 353.22,312.72 353.55,312.58 353.88,312.45 354.2,312.32 354.53,312.19 354.86,312.07 355.18,311.95 355.51,311.84 355.84,311.73 356.17,311.62 356.49,311.52 356.82,311.42 357.15,311.32 357.47,311.22 357.8,311.13 358.13,311.04 358.46,310.95 358.78,310.87 359.11,310.79 359.44,310.71 359.77,310.63 360.09,310.56 360.42,310.49 360.75,310.42 361.07,310.35 361.4,310.28 361.73,310.22 362.06,310.16 362.38,310.1 362.71,310.04 363.04,309.98 363.37,309.93 363.69,309.88 364.02,309.83 364.35,309.78 364.67,309.73 365,309.68 365.33,309.64 365.66,309.6 365.98,309.55 366.31,309.51 366.64,309.47 366.96,309.44 367.29,309.4 367.62,309.36 367.95,309.33 368.27,309.29 368.6,309.26 368.93,309.23 369.26,309.2 369.58,309.17 369.91,309.14 370.24,309.12 370.56,309.09 370.89,309.06 371.22,309.04 371.55,309.01 371.87,308.99 372.2,308.97 372.53,308.95" class="cv"/>
<polyline points="307.08,384.45 307.41,384.36 307.73,384.26 308.06,384.16 308.39,384.06 308.72,383.96 309.04,383.86 309.37,383.75 309.7,383.65 310.03,383.54 310.35,383.43 310.68,383.31 311.01,383.2 311.33,383.08 311.66,382.96 311.99,382.84 312.32,382.71 312.64,382.59 312.97,382.46 313.3,382.33 313.62,382.2 313.95,382.07 314.28,381.93 314.61,381.79 314.93,381.66 315.26,381.51 315.59,381.37 315.92,381.23 316.24,381.08 316.57,380.93 316.9,380.78 317.22,380.63 317.55,380.48 317.88,380.33 318.21,380.17 318.53,380.01 318.86,379.86 319.19,379.7 319.52,379.54 319.84,379.37 320.17,379.21 320.5,379.05 320.82,378.88 321.15,378.72 321.48,378.55 321.81,378.38 322.13,378.22 322.46,378.05 322.79,377.88 323.11,377.71 323.44,377.54 323.77,377.37 324.1,377.2 324.42,377.03 324.75,376.86 325.08,376.69 325.41,376.52 325.73,376.35 326.06,376.18 326.39,376.01 326.71,375.85 327.04,375.68 327.37,375.51 327.7,375.35 328.02,375.18 328.35,375.02 328.68,374.85 329.01,374.69 329.33,374.53 329.66,374.37 329.99,374.21 330.31,374.05 330.64,373.9 330.97,373.74 331.3,373.59 331.62,373.44 331.95,373.29 332.28,373.14 332.6,372.99 332.93,372.84 333.26,372.7 333.59,372.56 333.91,372.42 334.24,372.28 334.57,372.14 334.9,372.01 335.22,371.88 335.55,371.75 335.88,371.62 336.2,371.49 336.53,371.37 336.86,371.24 337.19,371.12 337.51,371 337.84,370.89 338.17,370.77 338.5,370.66 338.82,370.55 339.15,370.44 339.48,370.33 339.8,370.23 340.13,370.13 340.46,370.03 340.79,369.93 341.11,369.83 341.44,369.74 341.77,369.65 342.09,369.55 342.42,369.47 342.75,369.38 343.08,369.29 343.4,369.21 343.73,369.13 344.06,369.05 344.39,368.97 344.71,368.9 345.04,368.82 345.37,368.75 345.69,368.68 346.02,368.61 346.35,368.54 346.68,368.48 347,368.41 347.33,368.35 347.66,368.29 347.98,368.23 348.31,368.17 348.64,368.12 348.97,368.06 349.29,368.01 349.62,367.95 349.95,367.9 350.28,367.85 350.6,367.8 350.93,367.76 351.26,367.71 351.58,367.67 351.91,367.62 352.24,367.58 352.57,367.54 352.89,367.5 353.22,367.46 353.55,367.42 353.88,367.38 354.2,367.35 354.53,367.31 354.86,367.28 355.18,367.25 355.51,367.21 355.84,367.18 356.17,367.15 356.49,367.12 356.82,367.09 357.15,367.06 357.47,367.04 357.8,367.01 358.13,366.99 358.46,366.96 358.78,366.94 359.11,366.91 359.44,366.89 359.77,366.87 360.09,366.85 360.42,366.82 360.75,366.8 361.07,366.78 361.4,366.76 361.73,366.75 362.06,366.73 362.38,366.71 362.71,366.69 363.04,366.68 363.37,366.66 363.69,366.64 364.02,366.63 364.35,366.61 364.67,366.6 365,366.59 365.33,366.57 365.66,366.56 365.98,366.55 366.31,366.53 366.64,366.52 366.96,366.51 367.29,366.5 367.62,366.49 367.95,366.48 368.27,366.47 368.6,366.46 368.93,366.45 369.26,366.44 369.58,366.43 369.91,366.42 370.24,366.41 370.56,366.4 370.89,366.4 371.22,366.39 371.55,366.38 371.87,366.37 372.2,366.37 372.53,366.36" class="cv"/>
<rect x="305.5" y="385.5" width="4" height="4" class="sq"/>
<rect x="315.5" y="371.5" width="4" height="4" class="sq"/>
<rect x="326.5" y="338.5" width="4" height="4" class="sq"/>
<rect x="337.5" y="305.5" width="4" height="4" class="sq"/>
<rect x="348.5" y="302.5" width="4" height="4" class="sq"/>
<rect x="359.5" y="300.5" width="4" height="4" class="sq"/>
<rect x="370.5" y="303.5" width="4" height="4" class="sq"/>
<polygon points="304.54,384.86 309.62,384.86 307.08,389.54" class="tr"/>
<polygon points="315.44,371.65 320.53,371.65 317.99,376.33" class="tr"/>
<polygon points="326.35,373.93 331.44,373.93 328.9,378.61" class="tr"/>
<polygon points="337.26,365.46 342.35,365.46 339.8,370.13" class="tr"/>
<polygon points="348.17,377.94 353.26,377.94 350.71,382.61" class="tr"/>
<polygon points="359.08,357.62 364.16,357.62 361.62,362.3" class="tr"/>
<polygon points="369.98,364.09 375.07,364.09 372.53,368.77" class="tr"/>
</g>
<g>
<path d="M414,296.9H415.6V388.2" class="ax"/>
<line x1="414" y1="388" x2="415.6" y2="388" class="tk"/>
<line x1="414" y1="369.78" x2="415.6" y2="369.78" class="tk"/>
<line x1="414" y1="351.56" x2="415.6" y2="351.56" class="tk"/>
<line x1="414" y1="333.34" x2="415.6" y2="333.34" class="tk"/>
<line x1="414" y1="315.12" x2="415.6" y2="315.12" class="tk"/>
<text x="413.06" y="390.07" class="yt" style="font-size:5.83px">0</text>
<text x="413.06" y="371.85" class="yt" style="font-size:5.83px">20</text>
<text x="413.06" y="353.63" class="yt" style="font-size:5.83px">40</text>
<text x="413.06" y="335.41" class="yt" style="font-size:5.83px">60</text>
<text x="413.06" y="317.19" class="yt" style="font-size:5.83px">80</text>
<text x="413.06" y="298.97" class="yt" style="font-size:5.83px">100</text>
<line x1="421.1" y1="394.5" x2="512.8" y2="394.5" class="ax"/>
<line x1="421.7" y1="394.5" x2="421.7" y2="396.1" class="tk"/>
<text x="421.7" y="402.66" class="xt" style="font-size:5.83px">-4.5</text>
<line x1="439.86" y1="394.5" x2="439.86" y2="396.1" class="tk"/>
<text x="439.86" y="402.66" class="xt" style="font-size:5.83px">-4.0</text>
<line x1="458.02" y1="394.5" x2="458.02" y2="396.1" class="tk"/>
<text x="458.02" y="402.66" class="xt" style="font-size:5.83px">-3.5</text>
<line x1="476.18" y1="394.5" x2="476.18" y2="396.1" class="tk"/>
<text x="476.18" y="402.66" class="xt" style="font-size:5.83px">-3.0</text>
<line x1="494.34" y1="394.5" x2="494.34" y2="396.1" class="tk"/>
<text x="494.34" y="402.66" class="xt" style="font-size:5.83px">-2.5</text>
<line x1="512.5" y1="394.5" x2="512.5" y2="396.1" class="tk"/>
<text x="512.5" y="402.66" class="xt" style="font-size:5.83px">-2.0</text>
<text x="467.3" y="412.63" class="xl" style="font-size:7.84px">[ristocetin] (log g/ml)</text>
<text transform="translate(398.01,342.4) rotate(-90)" class="yl" style="font-size:7.84px">Aggregation (%)</text>
<line x1="471.5" y1="374.97" x2="471.5" y2="356.5" class="eb"/>
<line x1="469.7" y1="356.5" x2="473.3" y2="356.5" class="eb"/>
<line x1="480.5" y1="317.58" x2="480.5" y2="306.5" class="eb"/>
<line x1="478.7" y1="306.5" x2="482.3" y2="306.5" class="eb"/>
<line x1="480.5" y1="317.58" x2="480.5" y2="340.5" class="eb"/>
<line x1="478.7" y1="340.5" x2="482.3" y2="340.5" class="eb"/>
<line x1="489.5" y1="304.19" x2="489.5" y2="313.5" class="eb"/>
<line x1="487.7" y1="313.5" x2="491.3" y2="313.5" class="eb"/>
<polyline points="444.58,385.27 444.85,385.26 445.13,385.26 445.4,385.26 445.67,385.26 445.94,385.26 446.22,385.26 446.49,385.26 446.76,385.26 447.03,385.26 447.31,385.26 447.58,385.26 447.85,385.26 448.12,385.26 448.4,385.26 448.67,385.26 448.94,385.26 449.21,385.26 449.48,385.26 449.76,385.26 450.03,385.26 450.3,385.25 450.57,385.25 450.85,385.25 451.12,385.25 451.39,385.25 451.66,385.25 451.94,385.25 452.21,385.24 452.48,385.24 452.75,385.24 453.03,385.24 453.3,385.23 453.57,385.23 453.84,385.23 454.12,385.22 454.39,385.22 454.66,385.21 454.93,385.21 455.21,385.2 455.48,385.2 455.75,385.19 456.02,385.18 456.29,385.17 456.57,385.16 456.84,385.15 457.11,385.14 457.38,385.13 457.66,385.12 457.93,385.11 458.2,385.09 458.47,385.07 458.75,385.05 459.02,385.03 459.29,385.01 459.56,384.99 459.84,384.96 460.11,384.93 460.38,384.9 460.65,384.86 460.93,384.83 461.2,384.78 461.47,384.74 461.74,384.69 462.02,384.63 462.29,384.57 462.56,384.51 462.83,384.43 463.1,384.36 463.38,384.27 463.65,384.18 463.92,384.07 464.19,383.96 464.47,383.84 464.74,383.7 465.01,383.56 465.28,383.4 465.56,383.22 465.83,383.03 466.1,382.82 466.37,382.6 466.65,382.35 466.92,382.08 467.19,381.79 467.46,381.47 467.74,381.13 468.01,380.75 468.28,380.35 468.55,379.91 468.83,379.43 469.1,378.92 469.37,378.36 469.64,377.76 469.91,377.12 470.19,376.42 470.46,375.68 470.73,374.88 471,374.02 471.28,373.11 471.55,372.14 471.82,371.11 472.09,370.01 472.37,368.85 472.64,367.63 472.91,366.34 473.18,364.99 473.46,363.58 473.73,362.11 474,360.58 474.27,359 474.55,357.37 474.82,355.69 475.09,353.98 475.36,352.23 475.64,350.45 475.91,348.66 476.18,346.85 476.45,345.03 476.72,343.22 477,341.42 477.27,339.64 477.54,337.88 477.81,336.15 478.09,334.46 478.36,332.82 478.63,331.22 478.9,329.67 479.18,328.18 479.45,326.75 479.72,325.38 479.99,324.07 480.27,322.83 480.54,321.65 480.81,320.53 481.08,319.47 481.36,318.48 481.63,317.55 481.9,316.68 482.17,315.86 482.45,315.1 482.72,314.39 482.99,313.72 483.26,313.11 483.53,312.54 483.81,312.01 484.08,311.52 484.35,311.07 484.62,310.66 484.9,310.27 485.17,309.92 485.44,309.59 485.71,309.29 485.99,309.01 486.26,308.76 486.53,308.53 486.8,308.31 487.08,308.12 487.35,307.94 487.62,307.77 487.89,307.62 488.17,307.48 488.44,307.36 488.71,307.24 488.98,307.13 489.26,307.04 489.53,306.95 489.8,306.87 490.07,306.79 490.34,306.73 490.62,306.66 490.89,306.61 491.16,306.55 491.43,306.51 491.71,306.46 491.98,306.42 492.25,306.39 492.52,306.36 492.8,306.33 493.07,306.3 493.34,306.27 493.61,306.25 493.89,306.23 494.16,306.21 494.43,306.19 494.7,306.18 494.98,306.16 495.25,306.15 495.52,306.14 495.79,306.13 496.07,306.12 496.34,306.11 496.61,306.1 496.88,306.09 497.15,306.08 497.43,306.08 497.7,306.07 497.97,306.07 498.24,306.06 498.52,306.06 498.79,306.05 499.06,306.05" class="cv"/>
<polyline points="444.58,385.27 444.85,385.27 445.13,385.27 445.4,385.27 445.67,385.27 445.94,385.27 446.22,385.27 446.49,385.27 446.76,385.27 447.03,385.27 447.31,385.27 447.58,385.27 447.85,385.27 448.12,385.27 448.4,385.27 448.67,385.27 448.94,385.27 449.21,385.27 449.48,385.27 449.76,385.27 450.03,385.27 450.3,385.27 450.57,385.27 450.85,385.27 451.12,385.27 451.39,385.27 451.66,385.27 451.94,385.27 452.21,385.27 452.48,385.27 452.75,385.27 453.03,385.27 453.3,385.27 453.57,385.27 453.84,385.27 454.12,385.27 454.39,385.27 454.66,385.27 454.93,385.27 455.21,385.27 455.48,385.27 455.75,385.27 456.02,385.27 456.29,385.27 456.57,385.27 456.84,385.27 457.11,385.27 457.38,385.27 457.66,385.27 457.93,385.27 458.2,385.27 458.47,385.27 458.75,385.27 459.02,385.27 459.29,385.27 459.56,385.27 459.84,385.27 460.11,385.27 460.38,385.27 460.65,385.27 460.93,385.27 461.2,385.27 461.47,385.27 461.74,385.27 462.02,385.27 462.29,385.27 462.56,385.27 462.83,385.27 463.1,385.27 463.38,385.27 463.65,385.27 463.92,385.27 464.19,385.27 464.47,385.27 464.74,385.27 465.01,385.27 465.28,385.27 465.56,385.27 465.83,385.27 466.1,385.27 466.37,385.27 466.65,385.27 466.92,385.27 467.19,385.27 467.46,385.27 467.74,385.27 468.01,385.27 468.28,385.27 468.55,385.27 468.83,385.27 469.1,385.26 469.37,385.26 469.64,385.26 469.91,385.25 470.19,385.24 470.46,385.22 470.73,385.19 471,385.15 471.28,385.06 471.55,384.93 471.82,384.7 472.09,384.31 472.37,383.68 472.64,382.64 472.91,380.96 473.18,378.32 473.46,374.32 473.73,368.6 474,361.06 474.27,352.13 474.55,342.81 474.82,334.26 475.09,327.31 475.36,322.19 475.64,318.69 475.91,316.41 476.18,314.97 476.45,314.09 476.72,313.56 477,313.23 477.27,313.04 477.54,312.92 477.81,312.85 478.09,312.81 478.36,312.79 478.63,312.77 478.9,312.76 479.18,312.76 479.45,312.76 479.72,312.75 479.99,312.75 480.27,312.75 480.54,312.75 480.81,312.75 481.08,312.75 481.36,312.75 481.63,312.75 481.9,312.75 482.17,312.75 482.45,312.75 482.72,312.75 482.99,312.75 483.26,312.75 483.53,312.75 483.81,312.75 484.08,312.75 484.35,312.75 484.62,312.75 484.9,312.75 485.17,312.75 485.44,312.75 485.71,312.75 485.99,312.75 486.26,312.75 486.53,312.75 486.8,312.75 487.08,312.75 487.35,312.75 487.62,312.75 487.89,312.75 488.17,312.75 488.44,312.75 488.71,312.75 488.98,312.75 489.26,312.75 489.53,312.75 489.8,312.75 490.07,312.75 490.34,312.75 490.62,312.75 490.89,312.75 491.16,312.75 491.43,312.75 491.71,312.75 491.98,312.75 492.25,312.75 492.52,312.75 492.8,312.75 493.07,312.75 493.34,312.75 493.61,312.75 493.89,312.75 494.16,312.75 494.43,312.75 494.7,312.75 494.98,312.75 495.25,312.75 495.52,312.75 495.79,312.75 496.07,312.75 496.34,312.75 496.61,312.75 496.88,312.75 497.15,312.75 497.43,312.75 497.7,312.75 497.97,312.75 498.24,312.75 498.52,312.75 498.79,312.75 499.06,312.75" class="cv"/>
<rect x="442.5" y="386.5" width="4" height="4" class="sq"/>
<rect x="451.5" y="383.5" width="4" height="4" class="sq"/>
<rect x="460.5" y="385.5" width="4" height="4" class="sq"/>
<rect x="469.5" y="372.5" width="4" height="4" class="sq"/>
<rect x="478.5" y="315.5" width="4" height="4" class="sq"/>
<rect x="487.5" y="302.5" width="4" height="4" class="sq"/>
<rect x="497.5" y="299.5" width="4" height="4" class="sq"/>
<polygon points="442.04,385.32 447.13,385.32 444.58,389.99" class="tr"/>
<polygon points="451.12,378.12 456.21,378.12 453.66,382.8" class="tr"/>
<polygon points="460.2,385.32 465.29,385.32 462.74,389.99" class="tr"/>
<polygon points="469.28,378.49 474.37,378.49 471.82,383.16" class="tr"/>
<polygon points="478.36,300.87 483.45,300.87 480.9,305.54" class="tr"/>
<polygon points="487.44,329.93 492.53,329.93 489.98,334.6" class="tr"/>
<polygon points="496.52,297.86 501.61,297.86 499.06,302.54" class="tr"/>
</g>
<g>
<path d="M22.2,433.3H23.8V524.5" class="ax"/>
<line x1="22.2" y1="524.3" x2="23.8" y2="524.3" class="tk"/>
<line x1="22.2" y1="506.1" x2="23.8" y2="506.1" class="tk"/>
<line x1="22.2" y1="487.9" x2="23.8" y2="487.9" class="tk"/>
<line x1="22.2" y1="469.7" x2="23.8" y2="469.7" class="tk"/>
<line x1="22.2" y1="451.5" x2="23.8" y2="451.5" class="tk"/>
<text x="21.26" y="526.37" class="yt" style="font-size:5.83px">0</text>
<text x="21.26" y="508.17" class="yt" style="font-size:5.83px">20</text>
<text x="21.26" y="489.97" class="yt" style="font-size:5.83px">40</text>
<text x="21.26" y="471.77" class="yt" style="font-size:5.83px">60</text>
<text x="21.26" y="453.57" class="yt" style="font-size:5.83px">80</text>
<text x="21.26" y="435.37" class="yt" style="font-size:5.83px">100</text>
<line x1="29.8" y1="530.9" x2="121.5" y2="530.9" class="ax"/>
<line x1="30.5" y1="530.9" x2="30.5" y2="532.5" class="tk"/>
<text x="30.5" y="539.06" class="xt" style="font-size:5.83px">-10.5</text>
<line x1="44.4" y1="530.9" x2="44.4" y2="532.5" class="tk"/>
<text x="44.4" y="539.06" class="xt" style="font-size:5.83px">-9.5</text>
<line x1="58.3" y1="530.9" x2="58.3" y2="532.5" class="tk"/>
<text x="58.3" y="539.06" class="xt" style="font-size:5.83px">-8.5</text>
<line x1="72.2" y1="530.9" x2="72.2" y2="532.5" class="tk"/>
<text x="72.2" y="539.06" class="xt" style="font-size:5.83px">-7.5</text>
<line x1="86.1" y1="530.9" x2="86.1" y2="532.5" class="tk"/>
<text x="86.1" y="539.06" class="xt" style="font-size:5.83px">-6.5</text>
<line x1="100" y1="530.9" x2="100" y2="532.5" class="tk"/>
<text x="100" y="539.06" class="xt" style="font-size:5.83px">-5.5</text>
<line x1="113.9" y1="530.9" x2="113.9" y2="532.5" class="tk"/>
<text x="113.9" y="539.06" class="xt" style="font-size:5.83px">-4.5</text>
<text x="75.7" y="549.03" class="xl" style="font-size:7.84px">[epinephrine] (log M)</text>
<text transform="translate(6.21,478.8) rotate(-90)" class="yl" style="font-size:7.84px">Aggregation (%)</text>
<line x1="54.5" y1="517.29" x2="54.5" y2="513.5" class="eb"/>
<line x1="52.7" y1="513.5" x2="56.3" y2="513.5" class="eb"/>
<line x1="75.5" y1="507.28" x2="75.5" y2="500.5" class="eb"/>
<line x1="73.7" y1="500.5" x2="77.3" y2="500.5" class="eb"/>
<line x1="75.5" y1="507.28" x2="75.5" y2="515.5" class="eb"/>
<line x1="73.7" y1="515.5" x2="77.3" y2="515.5" class="eb"/>
<line x1="86.5" y1="479.62" x2="86.5" y2="453.5" class="eb"/>
<line x1="84.7" y1="453.5" x2="88.3" y2="453.5" class="eb"/>
<line x1="86.5" y1="479.62" x2="86.5" y2="503.5" class="eb"/>
<line x1="84.7" y1="503.5" x2="88.3" y2="503.5" class="eb"/>
<line x1="96.5" y1="445.95" x2="96.5" y2="437.5" class="eb"/>
<line x1="94.7" y1="437.5" x2="98.3" y2="437.5" class="eb"/>
<line x1="96.5" y1="445.95" x2="96.5" y2="461.5" class="eb"/>
<line x1="94.7" y1="461.5" x2="98.3" y2="461.5" class="eb"/>
<line x1="107.5" y1="446.5" x2="107.5" y2="438.5" class="eb"/>
<line x1="105.7" y1="438.5" x2="109.3" y2="438.5" class="eb"/>
<line x1="107.5" y1="446.5" x2="107.5" y2="457.5" class="eb"/>
<line x1="105.7" y1="457.5" x2="109.3" y2="457.5" class="eb"/>
<polyline points="44.4,520.59 44.71,520.59 45.03,520.59 45.34,520.58 45.66,520.58 45.97,520.57 46.29,520.57 46.6,520.56 46.92,520.56 47.23,520.55 47.55,520.54 47.86,520.54 48.18,520.53 48.49,520.52 48.81,520.52 49.12,520.51 49.44,520.5 49.75,520.49 50.07,520.48 50.38,520.47 50.7,520.46 51.01,520.45 51.33,520.43 51.64,520.42 51.96,520.41 52.27,520.39 52.59,520.38 52.9,520.36 53.22,520.35 53.53,520.33 53.85,520.31 54.16,520.29 54.47,520.27 54.79,520.25 55.1,520.22 55.42,520.2 55.73,520.17 56.05,520.14 56.36,520.11 56.68,520.08 56.99,520.05 57.31,520.02 57.62,519.98 57.94,519.94 58.25,519.9 58.57,519.86 58.88,519.81 59.2,519.77 59.51,519.71 59.83,519.66 60.14,519.61 60.46,519.55 60.77,519.48 61.09,519.42 61.4,519.35 61.72,519.27 62.03,519.2 62.35,519.12 62.66,519.03 62.98,518.94 63.29,518.84 63.6,518.74 63.92,518.64 64.23,518.52 64.55,518.41 64.86,518.28 65.18,518.15 65.49,518.01 65.81,517.87 66.12,517.71 66.44,517.55 66.75,517.38 67.07,517.2 67.38,517.02 67.7,516.82 68.01,516.61 68.33,516.4 68.64,516.17 68.96,515.93 69.27,515.68 69.59,515.41 69.9,515.14 70.22,514.85 70.53,514.54 70.85,514.22 71.16,513.89 71.48,513.54 71.79,513.18 72.11,512.8 72.42,512.4 72.74,511.98 73.05,511.55 73.36,511.1 73.68,510.63 73.99,510.14 74.31,509.63 74.62,509.1 74.94,508.55 75.25,507.98 75.57,507.39 75.88,506.78 76.2,506.14 76.51,505.49 76.83,504.81 77.14,504.11 77.46,503.39 77.77,502.65 78.09,501.89 78.4,501.1 78.72,500.3 79.03,499.48 79.35,498.63 79.66,497.77 79.98,496.89 80.29,495.99 80.61,495.08 80.92,494.15 81.24,493.21 81.55,492.26 81.87,491.29 82.18,490.31 82.5,489.33 82.81,488.33 83.12,487.33 83.44,486.33 83.75,485.32 84.07,484.31 84.38,483.3 84.7,482.29 85.01,481.29 85.33,480.29 85.64,479.29 85.96,478.3 86.27,477.33 86.59,476.36 86.9,475.4 87.22,474.46 87.53,473.53 87.85,472.61 88.16,471.72 88.48,470.83 88.79,469.97 89.11,469.13 89.42,468.3 89.74,467.49 90.05,466.71 90.37,465.94 90.68,465.2 91,464.48 91.31,463.78 91.63,463.1 91.94,462.44 92.25,461.8 92.57,461.19 92.88,460.6 93.2,460.02 93.51,459.47 93.83,458.94 94.14,458.43 94.46,457.94 94.77,457.46 95.09,457.01 95.4,456.58 95.72,456.16 96.03,455.76 96.35,455.38 96.66,455.01 96.98,454.66 97.29,454.33 97.61,454.01 97.92,453.7 98.24,453.41 98.55,453.13 98.87,452.87 99.18,452.62 99.5,452.37 99.81,452.15 100.13,451.93 100.44,451.72 100.76,451.52 101.07,451.33 101.39,451.15 101.7,450.98 102.01,450.82 102.33,450.67 102.64,450.52 102.96,450.38 103.27,450.25 103.59,450.13 103.9,450.01 104.22,449.9 104.53,449.79 104.85,449.69 105.16,449.59 105.48,449.5 105.79,449.41 106.11,449.33 106.42,449.25 106.74,449.18 107.05,449.11 107.37,449.04" class="cv"/>
<polyline points="44.4,523.83 44.71,523.83 45.03,523.83 45.34,523.83 45.66,523.83 45.97,523.83 46.29,523.83 46.6,523.83 46.92,523.83 47.23,523.83 47.55,523.82 47.86,523.82 48.18,523.82 48.49,523.82 48.81,523.82 49.12,523.82 49.44,523.82 49.75,523.81 50.07,523.81 50.38,523.81 50.7,523.81 51.01,523.81 51.33,523.8 51.64,523.8 51.96,523.8 52.27,523.8 52.59,523.79 52.9,523.79 53.22,523.79 53.53,523.78 53.85,523.78 54.16,523.78 54.47,523.77 54.79,523.77 55.1,523.76 55.42,523.76 55.73,523.76 56.05,523.75 56.36,523.74 56.68,523.74 56.99,523.73 57.31,523.73 57.62,523.72 57.94,523.71 58.25,523.7 58.57,523.69 58.88,523.69 59.2,523.68 59.51,523.67 59.83,523.66 60.14,523.64 60.46,523.63 60.77,523.62 61.09,523.61 61.4,523.59 61.72,523.58 62.03,523.56 62.35,523.55 62.66,523.53 62.98,523.51 63.29,523.49 63.6,523.47 63.92,523.45 64.23,523.42 64.55,523.4 64.86,523.37 65.18,523.35 65.49,523.32 65.81,523.29 66.12,523.25 66.44,523.22 66.75,523.18 67.07,523.15 67.38,523.1 67.7,523.06 68.01,523.02 68.33,522.97 68.64,522.92 68.96,522.86 69.27,522.81 69.59,522.75 69.9,522.68 70.22,522.62 70.53,522.55 70.85,522.47 71.16,522.39 71.48,522.31 71.79,522.22 72.11,522.13 72.42,522.03 72.74,521.93 73.05,521.82 73.36,521.71 73.68,521.59 73.99,521.46 74.31,521.33 74.62,521.19 74.94,521.04 75.25,520.88 75.57,520.72 75.88,520.55 76.2,520.36 76.51,520.17 76.83,519.98 77.14,519.77 77.46,519.55 77.77,519.32 78.09,519.08 78.4,518.82 78.72,518.56 79.03,518.28 79.35,517.99 79.66,517.69 79.98,517.38 80.29,517.05 80.61,516.7 80.92,516.35 81.24,515.98 81.55,515.59 81.87,515.19 82.18,514.77 82.5,514.34 82.81,513.9 83.12,513.43 83.44,512.96 83.75,512.47 84.07,511.96 84.38,511.43 84.7,510.9 85.01,510.34 85.33,509.78 85.64,509.2 85.96,508.6 86.27,507.99 86.59,507.38 86.9,506.74 87.22,506.1 87.53,505.45 87.85,504.79 88.16,504.12 88.48,503.44 88.79,502.76 89.11,502.07 89.42,501.38 89.74,500.69 90.05,499.99 90.37,499.29 90.68,498.59 91,497.9 91.31,497.2 91.63,496.51 91.94,495.83 92.25,495.15 92.57,494.48 92.88,493.81 93.2,493.16 93.51,492.51 93.83,491.87 94.14,491.25 94.46,490.64 94.77,490.04 95.09,489.45 95.4,488.88 95.72,488.32 96.03,487.78 96.35,487.25 96.66,486.74 96.98,486.24 97.29,485.75 97.61,485.29 97.92,484.83 98.24,484.4 98.55,483.98 98.87,483.57 99.18,483.18 99.5,482.8 99.81,482.44 100.13,482.09 100.44,481.76 100.76,481.44 101.07,481.13 101.39,480.83 101.7,480.55 102.01,480.28 102.33,480.03 102.64,479.78 102.96,479.55 103.27,479.32 103.59,479.11 103.9,478.91 104.22,478.71 104.53,478.53 104.85,478.35 105.16,478.19 105.48,478.03 105.79,477.88 106.11,477.73 106.42,477.6 106.74,477.47 107.05,477.34 107.37,477.23" class="cv"/>
<rect x="42.5" y="522.5" width="4" height="4" class="sq"/>
<rect x="52.5" y="515.5" width="4" height="4" class="sq"/>
<rect x="63.5" y="518.5" width="4" height="4" class="sq"/>
<rect x="73.5" y="505.5" width="4" height="4" class="sq"/>
<rect x="84.5" y="477.5" width="4" height="4" class="sq"/>
<rect x="94.5" y="443.5" width="4" height="4" class="sq"/>
<rect x="105.5" y="444.5" width="4" height="4" class="sq"/>
<polygon points="41.86,521.8 46.94,521.8 44.4,526.48" class="tr"/>
<polygon points="52.35,521.62 57.44,521.62 54.89,526.29" class="tr"/>
<polygon points="62.84,521.8 67.93,521.8 65.39,526.48" class="tr"/>
<polygon points="73.34,515.43 78.43,515.43 75.88,520.11" class="tr"/>
<polygon points="83.83,508.15 88.92,508.15 86.38,512.83" class="tr"/>
<polygon points="94.33,483.85 99.42,483.85 96.87,488.53" class="tr"/>
<polygon points="104.82,476.48 109.91,476.48 107.37,481.16" class="tr"/>
</g>
<g>
<path d="M154.7,433.3H156.3V524.5" class="ax"/>
<line x1="154.7" y1="524.3" x2="156.3" y2="524.3" class="tk"/>
<line x1="154.7" y1="506.1" x2="156.3" y2="506.1" class="tk"/>
<line x1="154.7" y1="487.9" x2="156.3" y2="487.9" class="tk"/>
<line x1="154.7" y1="469.7" x2="156.3" y2="469.7" class="tk"/>
<line x1="154.7" y1="451.5" x2="156.3" y2="451.5" class="tk"/>
<text x="153.76" y="526.37" class="yt" style="font-size:5.83px">0</text>
<text x="153.76" y="508.17" class="yt" style="font-size:5.83px">20</text>
<text x="153.76" y="489.97" class="yt" style="font-size:5.83px">40</text>
<text x="153.76" y="471.77" class="yt" style="font-size:5.83px">60</text>
<text x="153.76" y="453.57" class="yt" style="font-size:5.83px">80</text>
<text x="153.76" y="435.37" class="yt" style="font-size:5.83px">100</text>
<line x1="162.9" y1="530.9" x2="254" y2="530.9" class="ax"/>
<line x1="163.5" y1="530.9" x2="163.5" y2="532.5" class="tk"/>
<text x="163.5" y="539.06" class="xt" style="font-size:5.83px">-8.5</text>
<line x1="183.6" y1="530.9" x2="183.6" y2="532.5" class="tk"/>
<text x="183.6" y="539.06" class="xt" style="font-size:5.83px">-7.5</text>
<line x1="203.7" y1="530.9" x2="203.7" y2="532.5" class="tk"/>
<text x="203.7" y="539.06" class="xt" style="font-size:5.83px">-6.5</text>
<line x1="223.8" y1="530.9" x2="223.8" y2="532.5" class="tk"/>
<text x="223.8" y="539.06" class="xt" style="font-size:5.83px">-5.5</text>
<line x1="243.9" y1="530.9" x2="243.9" y2="532.5" class="tk"/>
<text x="243.9" y="539.06" class="xt" style="font-size:5.83px">-4.5</text>
<text x="208.6" y="549.03" class="xl" style="font-size:7.84px">[TRAP-6] (log M)</text>
<text transform="translate(138.71,478.8) rotate(-90)" class="yl" style="font-size:7.84px">Aggregation (%)</text>
<line x1="204.5" y1="514.56" x2="204.5" y2="507.5" class="eb"/>
<line x1="202.7" y1="507.5" x2="206.3" y2="507.5" class="eb"/>
<line x1="204.5" y1="514.56" x2="204.5" y2="522.5" class="eb"/>
<line x1="202.7" y1="522.5" x2="206.3" y2="522.5" class="eb"/>
<line x1="214.5" y1="486.26" x2="214.5" y2="442.5" class="eb"/>
<line x1="212.7" y1="442.5" x2="216.3" y2="442.5" class="eb"/>
<line x1="214.5" y1="486.26" x2="214.5" y2="502.5" class="eb"/>
<line x1="212.7" y1="502.5" x2="216.3" y2="502.5" class="eb"/>
<polyline points="183.6,519.96 183.91,519.94 184.23,519.92 184.54,519.91 184.85,519.89 185.17,519.87 185.48,519.85 185.79,519.83 186.11,519.81 186.42,519.79 186.74,519.76 187.05,519.74 187.36,519.71 187.68,519.68 187.99,519.65 188.3,519.62 188.62,519.58 188.93,519.54 189.24,519.51 189.56,519.47 189.87,519.42 190.18,519.38 190.5,519.33 190.81,519.28 191.13,519.22 191.44,519.16 191.75,519.1 192.07,519.04 192.38,518.97 192.69,518.9 193.01,518.82 193.32,518.74 193.63,518.66 193.95,518.57 194.26,518.47 194.57,518.37 194.89,518.27 195.2,518.16 195.52,518.04 195.83,517.91 196.14,517.78 196.46,517.64 196.77,517.5 197.08,517.34 197.4,517.18 197.71,517.01 198.02,516.83 198.34,516.64 198.65,516.43 198.96,516.22 199.28,516 199.59,515.76 199.91,515.52 200.22,515.26 200.53,514.98 200.85,514.69 201.16,514.39 201.47,514.07 201.79,513.74 202.1,513.39 202.41,513.02 202.73,512.64 203.04,512.23 203.35,511.81 203.67,511.37 203.98,510.9 204.29,510.42 204.61,509.91 204.92,509.38 205.24,508.83 205.55,508.26 205.86,507.66 206.18,507.04 206.49,506.39 206.8,505.72 207.12,505.02 207.43,504.3 207.74,503.55 208.06,502.78 208.37,501.98 208.68,501.15 209,500.3 209.31,499.42 209.63,498.52 209.94,497.6 210.25,496.65 210.57,495.67 210.88,494.68 211.19,493.66 211.51,492.62 211.82,491.56 212.13,490.48 212.45,489.39 212.76,488.28 213.07,487.16 213.39,486.03 213.7,484.88 214.02,483.73 214.33,482.57 214.64,481.4 214.96,480.23 215.27,479.06 215.58,477.89 215.9,476.73 216.21,475.56 216.52,474.41 216.84,473.26 217.15,472.12 217.46,471 217.78,469.88 218.09,468.79 218.41,467.71 218.72,466.64 219.03,465.6 219.35,464.57 219.66,463.57 219.97,462.59 220.29,461.63 220.6,460.7 220.91,459.79 221.23,458.91 221.54,458.05 221.85,457.22 222.17,456.41 222.48,455.63 222.8,454.87 223.11,454.14 223.42,453.44 223.74,452.76 224.05,452.1 224.36,451.48 224.68,450.87 224.99,450.29 225.3,449.73 225.62,449.2 225.93,448.69 226.24,448.2 226.56,447.73 226.87,447.28 227.18,446.85 227.5,446.44 227.81,446.05 228.13,445.68 228.44,445.32 228.75,444.98 229.07,444.66 229.38,444.35 229.69,444.06 230.01,443.78 230.32,443.52 230.63,443.27 230.95,443.03 231.26,442.8 231.57,442.59 231.89,442.38 232.2,442.19 232.52,442.01 232.83,441.83 233.14,441.67 233.46,441.51 233.77,441.36 234.08,441.22 234.4,441.09 234.71,440.96 235.02,440.84 235.34,440.73 235.65,440.62 235.96,440.52 236.28,440.42 236.59,440.33 236.91,440.24 237.22,440.16 237.53,440.09 237.85,440.01 238.16,439.94 238.47,439.88 238.79,439.82 239.1,439.76 239.41,439.7 239.73,439.65 240.04,439.6 240.35,439.56 240.67,439.51 240.98,439.47 241.3,439.43 241.61,439.39 241.92,439.36 242.24,439.33 242.55,439.29 242.86,439.26 243.18,439.24 243.49,439.21 243.8,439.18 244.12,439.16 244.43,439.14 244.74,439.12 245.06,439.1 245.37,439.08 245.68,439.06 246,439.04 246.31,439.03" class="cv"/>
<polyline points="183.6,519.39 183.91,519.39 184.23,519.39 184.54,519.39 184.85,519.39 185.17,519.39 185.48,519.39 185.79,519.39 186.11,519.39 186.42,519.39 186.74,519.39 187.05,519.39 187.36,519.39 187.68,519.39 187.99,519.39 188.3,519.39 188.62,519.39 188.93,519.39 189.24,519.39 189.56,519.39 189.87,519.39 190.18,519.39 190.5,519.39 190.81,519.39 191.13,519.39 191.44,519.39 191.75,519.39 192.07,519.39 192.38,519.39 192.69,519.39 193.01,519.39 193.32,519.39 193.63,519.39 193.95,519.39 194.26,519.39 194.57,519.39 194.89,519.39 195.2,519.39 195.52,519.39 195.83,519.39 196.14,519.39 196.46,519.39 196.77,519.39 197.08,519.39 197.4,519.39 197.71,519.39 198.02,519.39 198.34,519.39 198.65,519.39 198.96,519.39 199.28,519.39 199.59,519.39 199.91,519.39 200.22,519.39 200.53,519.39 200.85,519.39 201.16,519.39 201.47,519.39 201.79,519.39 202.1,519.39 202.41,519.39 202.73,519.39 203.04,519.39 203.35,519.39 203.67,519.39 203.98,519.39 204.29,519.39 204.61,519.39 204.92,519.39 205.24,519.39 205.55,519.39 205.86,519.39 206.18,519.39 206.49,519.39 206.8,519.39 207.12,519.39 207.43,519.39 207.74,519.39 208.06,519.39 208.37,519.39 208.68,519.39 209,519.39 209.31,519.39 209.63,519.39 209.94,519.39 210.25,519.39 210.57,519.39 210.88,519.39 211.19,519.39 211.51,519.39 211.82,519.39 212.13,519.39 212.45,519.39 212.76,519.39 213.07,519.39 213.39,519.39 213.7,519.39 214.02,519.39 214.33,519.39 214.64,519.39 214.96,519.39 215.27,519.39 215.58,519.39 215.9,519.39 216.21,519.39 216.52,519.39 216.84,519.39 217.15,519.39 217.46,519.39 217.78,519.39 218.09,519.39 218.41,519.39 218.72,519.39 219.03,519.39 219.35,519.39 219.66,519.39 219.97,519.39 220.29,519.39 220.6,519.39 220.91,519.39 221.23,519.39 221.54,519.39 221.85,519.39 222.17,519.39 222.48,519.39 222.8,519.39 223.11,519.39 223.42,519.39 223.74,519.39 224.05,519.39 224.36,519.39 224.68,519.39 224.99,519.39 225.3,519.39 225.62,519.39 225.93,519.39 226.24,519.39 226.56,519.39 226.87,519.39 227.18,519.39 227.5,519.39 227.81,519.39 228.13,519.39 228.44,519.39 228.75,519.39 229.07,519.39 229.38,519.39 229.69,519.38 230.01,519.38 230.32,519.38 230.63,519.38 230.95,519.37 231.26,519.35 231.57,519.31 231.89,519.24 232.2,519.11 232.52,518.86 232.83,518.39 233.14,517.51 233.46,515.88 233.77,512.95 234.08,507.94 234.4,500.03 234.71,489.05 235.02,476.24 235.34,463.97 235.65,454.28 235.96,447.71 236.28,443.71 236.59,441.43 236.91,440.18 237.22,439.51 237.53,439.16 237.85,438.97 238.16,438.87 238.47,438.82 238.79,438.79 239.1,438.78 239.41,438.77 239.73,438.76 240.04,438.76 240.35,438.76 240.67,438.76 240.98,438.76 241.3,438.76 241.61,438.76 241.92,438.76 242.24,438.76 242.55,438.76 242.86,438.76 243.18,438.76 243.49,438.76 243.8,438.76 244.12,438.76 244.43,438.76 244.74,438.76 245.06,438.76 245.37,438.76 245.68,438.76 246,438.76 246.31,438.76" class="cv"/>
<rect x="181.5" y="522.5" width="4" height="4" class="sq"/>
<rect x="192.5" y="513.5" width="4" height="4" class="sq"/>
<rect x="202.5" y="512.5" width="4" height="4" class="sq"/>
<rect x="212.5" y="484.5" width="4" height="4" class="sq"/>
<rect x="223.5" y="439.5" width="4" height="4" class="sq"/>
<rect x="233.5" y="435.5" width="4" height="4" class="sq"/>
<rect x="244.5" y="434.5" width="4" height="4" class="sq"/>
<rect x="237.5" y="433.5" width="5.5" height="5.5" class="sq"/>
<polygon points="181.06,521.8 186.14,521.8 183.6,526.48" class="tr"/>
<polygon points="191.51,516.34 196.6,516.34 194.05,521.02" class="tr"/>
<polygon points="201.96,514.61 207.05,514.61 204.5,519.29" class="tr"/>
<polygon points="212.41,509.06 217.5,509.06 214.96,513.74" class="tr"/>
<polygon points="222.86,519.07 227.95,519.07 225.41,523.75" class="tr"/>
<polygon points="233.32,442.09 238.4,442.09 235.86,446.76" class="tr"/>
<polygon points="243.77,430.16 248.86,430.16 246.31,434.84" class="tr"/>
</g>
<g>
<path d="M281.2,433.3H282.8V524.5" class="ax"/>
<line x1="281.2" y1="524.3" x2="282.8" y2="524.3" class="tk"/>
<line x1="281.2" y1="506.1" x2="282.8" y2="506.1" class="tk"/>
<line x1="281.2" y1="487.9" x2="282.8" y2="487.9" class="tk"/>
<line x1="281.2" y1="469.7" x2="282.8" y2="469.7" class="tk"/>
<line x1="281.2" y1="451.5" x2="282.8" y2="451.5" class="tk"/>
<text x="280.26" y="526.37" class="yt" style="font-size:5.83px">0</text>
<text x="280.26" y="508.17" class="yt" style="font-size:5.83px">20</text>
<text x="280.26" y="489.97" class="yt" style="font-size:5.83px">40</text>
<text x="280.26" y="471.77" class="yt" style="font-size:5.83px">60</text>
<text x="280.26" y="453.57" class="yt" style="font-size:5.83px">80</text>
<text x="280.26" y="435.37" class="yt" style="font-size:5.83px">100</text>
<line x1="288.5" y1="530.9" x2="380.1" y2="530.9" class="ax"/>
<line x1="289" y1="530.9" x2="289" y2="532.5" class="tk"/>
<text x="289" y="539.06" class="xt" style="font-size:5.83px">-9.5</text>
<line x1="305.5" y1="530.9" x2="305.5" y2="532.5" class="tk"/>
<text x="305.5" y="539.06" class="xt" style="font-size:5.83px">-8.5</text>
<line x1="322" y1="530.9" x2="322" y2="532.5" class="tk"/>
<text x="322" y="539.06" class="xt" style="font-size:5.83px">-7.5</text>
<line x1="338.5" y1="530.9" x2="338.5" y2="532.5" class="tk"/>
<text x="338.5" y="539.06" class="xt" style="font-size:5.83px">-6.5</text>
<line x1="355" y1="530.9" x2="355" y2="532.5" class="tk"/>
<text x="355" y="539.06" class="xt" style="font-size:5.83px">-5.5</text>
<line x1="371.5" y1="530.9" x2="371.5" y2="532.5" class="tk"/>
<text x="371.5" y="539.06" class="xt" style="font-size:5.83px">-4.5</text>
<text x="334.9" y="549.03" class="xl" style="font-size:7.84px">[U46619] (log M)</text>
<text transform="translate(265.21,478.8) rotate(-90)" class="yl" style="font-size:7.84px">Aggregation (%)</text>
<line x1="318.5" y1="515.93" x2="318.5" y2="509.5" class="eb"/>
<line x1="316.7" y1="509.5" x2="320.3" y2="509.5" class="eb"/>
<line x1="329.5" y1="509.19" x2="329.5" y2="503.5" class="eb"/>
<line x1="327.7" y1="503.5" x2="331.3" y2="503.5" class="eb"/>
<line x1="340.5" y1="445.22" x2="340.5" y2="436.5" class="eb"/>
<line x1="338.7" y1="436.5" x2="342.3" y2="436.5" class="eb"/>
<line x1="340.5" y1="445.22" x2="340.5" y2="472.5" class="eb"/>
<line x1="338.7" y1="472.5" x2="342.3" y2="472.5" class="eb"/>
<polyline points="307.98,519.28 308.3,519.28 308.63,519.28 308.96,519.27 309.28,519.27 309.61,519.27 309.94,519.27 310.26,519.26 310.59,519.26 310.92,519.26 311.24,519.25 311.57,519.25 311.9,519.24 312.22,519.24 312.55,519.23 312.88,519.23 313.2,519.22 313.53,519.21 313.86,519.2 314.18,519.19 314.51,519.18 314.84,519.17 315.16,519.16 315.49,519.14 315.82,519.13 316.14,519.11 316.47,519.09 316.8,519.07 317.12,519.05 317.45,519.02 317.78,518.99 318.1,518.96 318.43,518.93 318.76,518.89 319.08,518.85 319.41,518.8 319.74,518.75 320.06,518.69 320.39,518.63 320.72,518.56 321.04,518.48 321.37,518.4 321.7,518.31 322.02,518.2 322.35,518.09 322.68,517.97 323,517.83 323.33,517.68 323.66,517.52 323.98,517.34 324.31,517.14 324.64,516.92 324.96,516.68 325.29,516.41 325.62,516.13 325.94,515.81 326.27,515.46 326.6,515.08 326.92,514.67 327.25,514.21 327.58,513.72 327.9,513.18 328.23,512.59 328.56,511.95 328.88,511.26 329.21,510.51 329.54,509.7 329.86,508.83 330.19,507.89 330.52,506.88 330.84,505.8 331.17,504.64 331.5,503.41 331.82,502.1 332.15,500.71 332.48,499.25 332.8,497.71 333.13,496.1 333.46,494.41 333.78,492.66 334.11,490.85 334.44,488.99 334.76,487.07 335.09,485.12 335.42,483.13 335.74,481.12 336.07,479.1 336.4,477.08 336.72,475.07 337.05,473.07 337.38,471.1 337.7,469.16 338.03,467.27 338.36,465.43 338.68,463.64 339.01,461.92 339.34,460.27 339.66,458.7 339.99,457.19 340.32,455.76 340.64,454.41 340.97,453.14 341.3,451.94 341.63,450.82 341.95,449.78 342.28,448.8 342.61,447.89 342.93,447.05 343.26,446.27 343.59,445.55 343.91,444.88 344.24,444.27 344.57,443.71 344.89,443.19 345.22,442.71 345.55,442.28 345.87,441.88 346.2,441.52 346.53,441.18 346.85,440.88 347.18,440.6 347.51,440.35 347.83,440.12 348.16,439.91 348.49,439.72 348.81,439.55 349.14,439.39 349.47,439.25 349.79,439.12 350.12,439 350.45,438.89 350.77,438.79 351.1,438.71 351.43,438.63 351.75,438.55 352.08,438.49 352.41,438.43 352.73,438.37 353.06,438.32 353.39,438.28 353.71,438.24 354.04,438.2 354.37,438.17 354.69,438.14 355.02,438.11 355.35,438.09 355.67,438.06 356,438.04 356.33,438.03 356.65,438.01 356.98,437.99 357.31,437.98 357.63,437.97 357.96,437.96 358.29,437.95 358.61,437.94 358.94,437.93 359.27,437.92 359.59,437.92 359.92,437.91 360.25,437.9 360.57,437.9 360.9,437.89 361.23,437.89 361.55,437.89 361.88,437.88 362.21,437.88 362.53,437.88 362.86,437.87 363.19,437.87 363.51,437.87 363.84,437.87 364.17,437.87 364.49,437.86 364.82,437.86 365.15,437.86 365.47,437.86 365.8,437.86 366.13,437.86 366.45,437.86 366.78,437.86 367.11,437.86 367.43,437.86 367.76,437.86 368.09,437.85 368.41,437.85 368.74,437.85 369.07,437.85 369.39,437.85 369.72,437.85 370.05,437.85 370.37,437.85 370.7,437.85 371.03,437.85 371.35,437.85 371.68,437.85 372.01,437.85 372.33,437.85 372.66,437.85 372.99,437.85 373.31,437.85" class="cv"/>
<polyline points="307.98,520.66 308.3,520.66 308.63,520.66 308.96,520.66 309.28,520.66 309.61,520.66 309.94,520.66 310.26,520.66 310.59,520.66 310.92,520.66 311.24,520.66 311.57,520.66 311.9,520.66 312.22,520.66 312.55,520.66 312.88,520.66 313.2,520.66 313.53,520.66 313.86,520.66 314.18,520.66 314.51,520.66 314.84,520.66 315.16,520.66 315.49,520.66 315.82,520.66 316.14,520.66 316.47,520.66 316.8,520.66 317.12,520.66 317.45,520.66 317.78,520.66 318.1,520.66 318.43,520.66 318.76,520.66 319.08,520.66 319.41,520.66 319.74,520.66 320.06,520.66 320.39,520.66 320.72,520.66 321.04,520.66 321.37,520.66 321.7,520.66 322.02,520.66 322.35,520.66 322.68,520.66 323,520.66 323.33,520.66 323.66,520.66 323.98,520.66 324.31,520.66 324.64,520.66 324.96,520.66 325.29,520.66 325.62,520.66 325.94,520.66 326.27,520.66 326.6,520.66 326.92,520.66 327.25,520.66 327.58,520.66 327.9,520.66 328.23,520.66 328.56,520.66 328.88,520.66 329.21,520.66 329.54,520.66 329.86,520.66 330.19,520.66 330.52,520.66 330.84,520.66 331.17,520.66 331.5,520.66 331.82,520.66 332.15,520.66 332.48,520.66 332.8,520.66 333.13,520.66 333.46,520.66 333.78,520.66 334.11,520.66 334.44,520.66 334.76,520.66 335.09,520.65 335.42,520.65 335.74,520.65 336.07,520.65 336.4,520.65 336.72,520.65 337.05,520.64 337.38,520.64 337.7,520.63 338.03,520.63 338.36,520.62 338.68,520.62 339.01,520.61 339.34,520.6 339.66,520.58 339.99,520.57 340.32,520.55 340.64,520.53 340.97,520.5 341.3,520.47 341.63,520.43 341.95,520.39 342.28,520.33 342.61,520.27 342.93,520.19 343.26,520.09 343.59,519.98 343.91,519.85 344.24,519.69 344.57,519.49 344.89,519.26 345.22,518.99 345.55,518.66 345.87,518.28 346.2,517.81 346.53,517.27 346.85,516.62 347.18,515.86 347.51,514.97 347.83,513.92 348.16,512.7 348.49,511.28 348.81,509.65 349.14,507.79 349.47,505.68 349.79,503.3 350.12,500.66 350.45,497.75 350.77,494.6 351.1,491.22 351.43,487.65 351.75,483.94 352.08,480.15 352.41,476.34 352.73,472.56 353.06,468.89 353.39,465.37 353.71,462.06 354.04,458.97 354.37,456.14 354.69,453.58 355.02,451.28 355.35,449.24 355.67,447.45 356,445.88 356.33,444.53 356.65,443.36 356.98,442.36 357.31,441.5 357.63,440.78 357.96,440.16 358.29,439.64 358.61,439.2 358.94,438.84 359.27,438.53 359.59,438.27 359.92,438.05 360.25,437.86 360.57,437.71 360.9,437.58 361.23,437.48 361.55,437.39 361.88,437.31 362.21,437.25 362.53,437.2 362.86,437.16 363.19,437.12 363.51,437.09 363.84,437.07 364.17,437.04 364.49,437.03 364.82,437.01 365.15,437 365.47,436.99 365.8,436.98 366.13,436.98 366.45,436.97 366.78,436.96 367.11,436.96 367.43,436.96 367.76,436.95 368.09,436.95 368.41,436.95 368.74,436.95 369.07,436.95 369.39,436.95 369.72,436.94 370.05,436.94 370.37,436.94 370.7,436.94 371.03,436.94 371.35,436.94 371.68,436.94 372.01,436.94 372.33,436.94 372.66,436.94 372.99,436.94 373.31,436.94" class="cv"/>
<rect x="305.5" y="522.5" width="4" height="4" class="sq"/>
<rect x="316.5" y="513.5" width="4" height="4" class="sq"/>
<rect x="327.5" y="507.5" width="4" height="4" class="sq"/>
<rect x="338.5" y="443.5" width="4" height="4" class="sq"/>
<rect x="349.5" y="436.5" width="4" height="4" class="sq"/>
<rect x="360.5" y="434.5" width="4" height="4" class="sq"/>
<rect x="371.5" y="435.5" width="4" height="4" class="sq"/>
<polygon points="305.43,521.8 310.52,521.8 307.98,526.48" class="tr"/>
<polygon points="316.32,518.43 321.41,518.43 318.87,523.11" class="tr"/>
<polygon points="327.21,513.7 332.3,513.7 329.75,518.38" class="tr"/>
<polygon points="338.1,514.61 343.19,514.61 340.64,519.29" class="tr"/>
<polygon points="348.99,483.4 354.08,483.4 351.54,488.07" class="tr"/>
<polygon points="359.88,430.16 364.97,430.16 362.43,434.84" class="tr"/>
<polygon points="370.77,430.16 375.86,430.16 373.31,434.84" class="tr"/>
</g>
</svg>
</body></html>
